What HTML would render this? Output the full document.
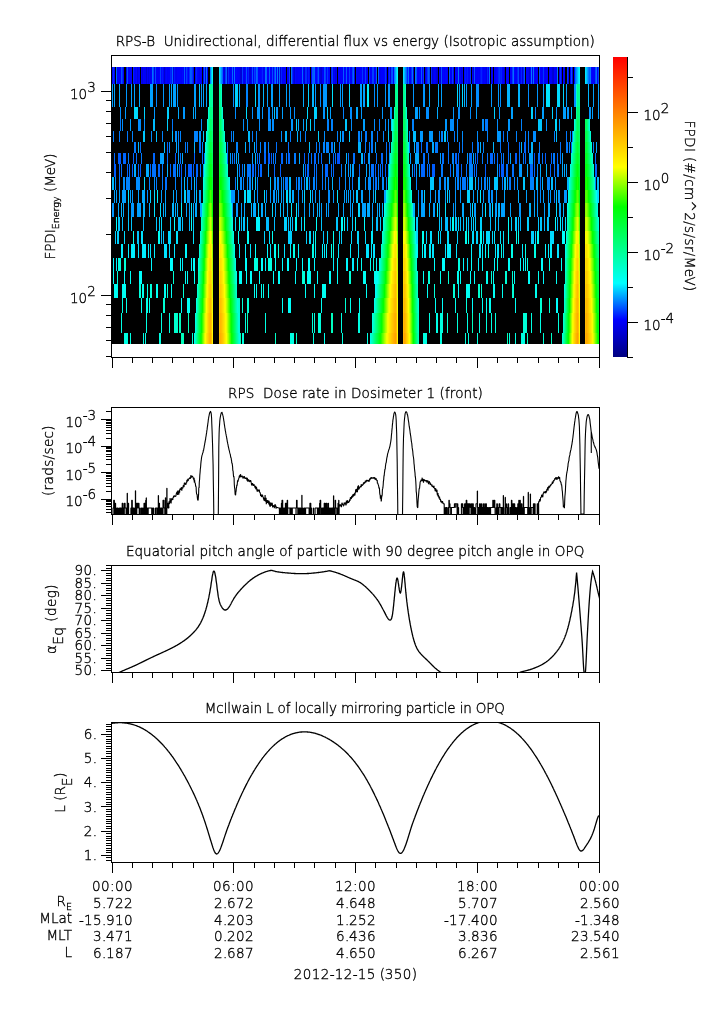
<!DOCTYPE html>
<html><head><meta charset="utf-8"><title>RPS-B plot</title><style>
html,body{margin:0;padding:0;background:#fff;width:725px;height:1019px;overflow:hidden}
svg{display:block}
text{font-family:"DejaVu Sans","Liberation Sans",sans-serif;font-size:13.5px;fill:#000;font-weight:200;stroke:#000;stroke-width:0.35px}
</style></head><body><svg width="725" height="1019" viewBox="0 0 725 1019"><rect width="725" height="1019" fill="#fff"/><text x="355.3" y="46" text-anchor="middle" textLength="479.2" lengthAdjust="spacing">RPS-B&#160;&#160;Unidirectional, differential flux vs energy (Isotropic assumption)</text><g shape-rendering="crispEdges"><rect x="112" y="67" width="487" height="277" fill="#000"/><path fill="#0000fd" d="M112 67h1v17h-1zM117 67h3v17h-3zM129 67h1v17h-1zM134 67h1v17h-1zM139 67h1v17h-1zM141 67h1v17h-1zM143 67h1v17h-1zM147 67h1v17h-1zM151 67h1v17h-1zM156 67h1v17h-1zM159 67h1v17h-1zM163 67h1v17h-1zM168 67h2v17h-2zM177 67h4v17h-4zM183 67h1v17h-1zM188 67h1v17h-1zM198 67h1v17h-1zM200 67h1v17h-1zM203 67h1v17h-1zM223 67h1v17h-1zM229 67h1v17h-1zM231 67h1v17h-1zM235 67h1v17h-1zM237 67h2v17h-2zM258 67h3v17h-3zM267 67h2v17h-2zM270 67h1v17h-1zM276 67h1v17h-1zM283 67h3v17h-3zM287 67h1v17h-1zM298 67h4v17h-4zM303 67h1v17h-1zM316 67h1v17h-1zM319 67h1v17h-1zM322 67h1v17h-1zM326 67h1v17h-1zM329 67h1v17h-1zM334 67h1v17h-1zM338 67h1v17h-1zM341 67h1v17h-1zM344 67h1v17h-1zM348 67h1v17h-1zM350 67h2v17h-2zM360 67h2v17h-2zM364 67h1v17h-1zM366 67h1v17h-1zM371 67h1v17h-1zM374 67h1v17h-1zM381 67h3v17h-3zM386 67h1v17h-1zM388 67h1v17h-1zM393 67h1v17h-1zM409 67h1v17h-1zM418 67h1v17h-1zM420 67h1v17h-1zM422 67h1v17h-1zM434 67h1v17h-1zM442 67h1v17h-1zM444 67h1v17h-1zM447 67h1v17h-1zM453 67h1v17h-1zM455 67h1v17h-1zM457 67h1v17h-1zM468 67h1v17h-1zM472 67h1v17h-1zM476 67h1v17h-1zM478 67h1v17h-1zM484 67h1v17h-1zM492 67h1v17h-1zM496 67h1v17h-1zM502 67h2v17h-2zM506 67h1v17h-1zM508 67h1v17h-1zM510 67h2v17h-2zM515 67h2v17h-2zM520 67h1v17h-1zM526 67h2v17h-2zM530 67h1v17h-1zM534 67h1v17h-1zM536 67h2v17h-2zM540 67h1v17h-1zM542 67h1v17h-1zM544 67h1v17h-1zM546 67h2v17h-2zM550 67h1v17h-1zM554 67h1v17h-1zM561 67h1v17h-1zM570 67h1v17h-1zM574 67h1v17h-1zM592 67h2v17h-2zM597 67h1v17h-1z"/><path fill="#002cff" d="M113 67h1v17h-1zM122 67h1v17h-1zM189 67h1v17h-1zM228 67h1v17h-1zM292 67h1v17h-1zM305 67h2v17h-2zM389 67h1v17h-1zM411 67h1v17h-1zM431 67h1v17h-1z"/><path fill="#0000f8" d="M114 67h1v17h-1zM120 67h1v17h-1zM123 67h1v17h-1zM128 67h1v17h-1zM130 67h2v17h-2zM135 67h1v17h-1zM138 67h1v17h-1zM144 67h2v17h-2zM149 67h1v17h-1zM157 67h2v17h-2zM165 67h1v17h-1zM167 67h1v17h-1zM175 67h1v17h-1zM181 67h1v17h-1zM185 67h1v17h-1zM193 67h1v17h-1zM195 67h1v17h-1zM201 67h1v17h-1zM207 67h1v17h-1zM230 67h1v17h-1zM233 67h1v17h-1zM239 67h1v17h-1zM243 67h1v17h-1zM251 67h1v17h-1zM253 67h1v17h-1zM263 67h1v17h-1zM271 67h1v17h-1zM273 67h1v17h-1zM282 67h1v17h-1zM288 67h1v17h-1zM293 67h1v17h-1zM296 67h2v17h-2zM311 67h1v17h-1zM323 67h1v17h-1zM336 67h1v17h-1zM339 67h2v17h-2zM342 67h1v17h-1zM347 67h1v17h-1zM357 67h3v17h-3zM367 67h1v17h-1zM370 67h1v17h-1zM379 67h1v17h-1zM410 67h1v17h-1zM435 67h1v17h-1zM450 67h2v17h-2zM456 67h1v17h-1zM459 67h2v17h-2zM462 67h1v17h-1zM469 67h1v17h-1zM475 67h1v17h-1zM477 67h1v17h-1zM479 67h1v17h-1zM483 67h1v17h-1zM485 67h1v17h-1zM488 67h1v17h-1zM491 67h1v17h-1zM494 67h1v17h-1zM532 67h1v17h-1zM541 67h1v17h-1zM549 67h1v17h-1zM551 67h1v17h-1zM555 67h1v17h-1zM563 67h2v17h-2zM568 67h1v17h-1zM594 67h1v17h-1z"/><path fill="#0066ff" d="M116 67h1v17h-1zM172 67h1v17h-1zM222 67h1v17h-1zM226 67h1v17h-1zM232 67h1v17h-1zM256 67h1v17h-1zM266 67h1v17h-1zM302 67h1v17h-1zM314 67h1v17h-1zM353 67h1v17h-1zM378 67h1v17h-1zM406 67h1v17h-1zM167 142h1v11h-1zM421 142h1v11h-1zM508 142h1v11h-1zM519 142h1v11h-1zM524 142h2v11h-2zM571 142h1v11h-1zM114 153h1v11h-1zM123 153h3v11h-3zM133 153h1v11h-1zM153 153h2v11h-2zM257 153h1v11h-1zM264 153h2v11h-2zM281 153h2v11h-2zM288 153h2v11h-2zM314 153h2v11h-2zM321 153h1v11h-1zM333 153h1v11h-1zM364 153h1v11h-1zM381 153h2v11h-2zM455 153h2v11h-2zM458 153h1v11h-1zM490 153h3v11h-3zM497 153h1v11h-1zM525 153h1v11h-1zM551 153h1v11h-1zM557 153h1v11h-1zM595 153h1v11h-1zM119 164h1v13h-1zM127 164h1v13h-1zM138 164h1v13h-1zM150 164h1v13h-1zM158 164h2v13h-2zM170 164h1v13h-1zM179 164h1v13h-1zM196 164h2v13h-2zM252 164h2v13h-2zM258 164h1v13h-1zM260 164h2v13h-2zM274 164h1v13h-1zM305 164h1v13h-1zM307 164h2v13h-2zM325 164h3v13h-3zM333 164h1v13h-1zM359 164h1v13h-1zM382 164h1v13h-1zM421 164h4v13h-4zM450 164h1v13h-1zM461 164h1v13h-1zM474 164h1v13h-1zM530 164h3v13h-3zM534 164h1v13h-1zM550 164h1v13h-1zM554 164h1v13h-1zM595 164h2v13h-2z"/><path fill="#0053ff" d="M121 67h1v17h-1zM127 67h1v17h-1zM191 67h1v17h-1zM246 67h1v17h-1zM252 67h1v17h-1zM257 67h1v17h-1zM318 67h1v17h-1zM324 67h1v17h-1zM392 67h1v17h-1zM416 67h1v17h-1zM441 67h1v17h-1zM474 67h1v17h-1zM524 67h1v17h-1zM571 67h1v17h-1zM337 153h3v11h-3zM534 153h1v11h-1zM385 164h1v13h-1z"/><path fill="#0000f3" d="M126 67h1v17h-1zM150 67h1v17h-1zM176 67h1v17h-1zM199 67h1v17h-1zM264 67h1v17h-1zM307 67h1v17h-1zM333 67h1v17h-1zM354 67h1v17h-1zM363 67h1v17h-1zM380 67h1v17h-1zM433 67h1v17h-1zM495 67h1v17h-1zM528 67h1v17h-1zM535 67h1v17h-1zM545 67h1v17h-1zM556 67h1v17h-1zM559 67h1v17h-1z"/><path fill="#0022ff" d="M133 67h1v17h-1zM170 67h1v17h-1zM196 67h1v17h-1zM248 67h1v17h-1zM255 67h1v17h-1zM262 67h1v17h-1zM281 67h1v17h-1zM317 67h1v17h-1zM407 67h1v17h-1zM481 67h1v17h-1zM487 67h1v17h-1zM498 67h1v17h-1zM501 67h1v17h-1zM517 67h1v17h-1zM521 67h1v17h-1z"/><path fill="#0005ff" d="M136 67h1v17h-1zM161 67h1v17h-1zM166 67h1v17h-1zM182 67h1v17h-1zM197 67h1v17h-1zM236 67h1v17h-1zM245 67h1v17h-1zM247 67h1v17h-1zM261 67h1v17h-1zM295 67h1v17h-1zM309 67h1v17h-1zM315 67h1v17h-1zM328 67h1v17h-1zM345 67h1v17h-1zM356 67h1v17h-1zM375 67h1v17h-1zM384 67h1v17h-1zM417 67h1v17h-1zM419 67h1v17h-1zM426 67h1v17h-1zM439 67h1v17h-1zM443 67h1v17h-1zM445 67h2v17h-2zM464 67h1v17h-1zM466 67h1v17h-1zM482 67h1v17h-1zM497 67h1v17h-1zM507 67h1v17h-1zM514 67h1v17h-1zM591 67h1v17h-1z"/><path fill="#0000e0" d="M137 67h1v17h-1zM142 67h1v17h-1zM148 67h1v17h-1zM335 67h1v17h-1zM413 67h1v17h-1zM425 67h1v17h-1zM436 67h1v17h-1zM572 67h1v17h-1z"/><path fill="#0000d1" d="M146 67h1v17h-1zM280 67h1v17h-1zM321 67h1v17h-1zM529 67h1v17h-1zM553 67h1v17h-1z"/><path fill="#0070ff" d="M152 67h1v17h-1zM206 67h1v17h-1zM234 67h1v17h-1zM265 67h1v17h-1zM275 67h1v17h-1zM279 67h1v17h-1zM291 67h1v17h-1zM408 67h1v17h-1zM412 67h1v17h-1zM415 67h1v17h-1zM458 67h1v17h-1zM489 67h1v17h-1zM513 67h1v17h-1zM533 67h1v17h-1zM557 67h1v17h-1zM575 67h1v17h-1zM596 67h1v17h-1zM377 131h1v11h-1zM503 131h1v11h-1zM140 142h1v11h-1zM199 142h2v11h-2zM256 142h1v11h-1zM276 142h1v11h-1zM288 142h1v11h-1zM339 142h1v11h-1zM386 142h1v11h-1zM389 142h1v11h-1zM426 142h2v11h-2zM459 142h1v11h-1zM472 142h1v11h-1zM500 142h1v11h-1zM560 142h1v11h-1zM136 153h1v11h-1zM167 153h1v11h-1zM180 153h1v11h-1zM202 153h1v11h-1zM227 153h1v11h-1zM234 153h1v11h-1zM308 153h1v11h-1zM311 153h1v11h-1zM335 153h1v11h-1zM348 153h1v11h-1zM353 153h2v11h-2zM376 153h1v11h-1zM423 153h2v11h-2zM428 153h1v11h-1zM442 153h2v11h-2zM448 153h1v11h-1zM469 153h3v11h-3zM475 153h1v11h-1zM487 153h1v11h-1zM494 153h1v11h-1zM501 153h1v11h-1zM508 153h1v11h-1zM519 153h1v11h-1zM538 153h2v11h-2zM542 153h1v11h-1zM121 164h1v13h-1zM129 164h1v13h-1zM152 164h4v13h-4zM173 164h3v13h-3zM185 164h1v13h-1zM200 164h1v13h-1zM239 164h1v13h-1zM242 164h1v13h-1zM255 164h1v13h-1zM314 164h1v13h-1zM316 164h1v13h-1zM331 164h1v13h-1zM371 164h3v13h-3zM378 164h1v13h-1zM380 164h1v13h-1zM427 164h1v13h-1zM429 164h1v13h-1zM456 164h3v13h-3zM466 164h1v13h-1zM476 164h1v13h-1zM506 164h2v13h-2zM512 164h2v13h-2zM165 177h2v13h-2zM339 177h1v13h-1zM375 177h2v13h-2zM540 177h1v13h-1z"/><path fill="#0049ff" d="M153 67h1v17h-1zM155 67h1v17h-1zM272 67h1v17h-1zM391 67h1v17h-1zM518 67h1v17h-1zM539 67h1v17h-1zM595 67h1v17h-1zM598 67h1v17h-1z"/><path fill="#0000e5" d="M154 67h1v17h-1zM486 67h1v17h-1zM519 67h1v17h-1z"/><path fill="#003fff" d="M160 67h1v17h-1zM186 67h1v17h-1zM242 67h1v17h-1zM254 67h1v17h-1zM274 67h1v17h-1zM289 67h1v17h-1zM325 67h1v17h-1zM332 67h1v17h-1zM349 67h1v17h-1zM352 67h1v17h-1zM365 67h1v17h-1zM372 67h2v17h-2zM429 67h1v17h-1zM452 67h1v17h-1zM512 67h1v17h-1zM567 67h1v17h-1z"/><path fill="#0018ff" d="M162 67h1v17h-1zM171 67h1v17h-1zM174 67h1v17h-1zM187 67h1v17h-1zM308 67h1v17h-1zM331 67h1v17h-1zM465 67h1v17h-1zM467 67h1v17h-1zM500 67h1v17h-1zM523 67h1v17h-1z"/><path fill="#0000cd" d="M164 67h1v17h-1z"/><path fill="#0000d6" d="M173 67h1v17h-1zM205 67h1v17h-1zM227 67h1v17h-1zM241 67h1v17h-1zM278 67h1v17h-1zM294 67h1v17h-1zM432 67h1v17h-1zM473 67h1v17h-1zM504 67h1v17h-1zM522 67h1v17h-1zM552 67h1v17h-1z"/><path fill="#005cff" d="M184 67h1v17h-1zM190 67h1v17h-1zM204 67h1v17h-1zM269 67h1v17h-1zM312 67h2v17h-2zM343 67h1v17h-1zM346 67h1v17h-1zM376 67h1v17h-1zM421 67h1v17h-1zM428 67h1v17h-1zM449 67h1v17h-1zM589 67h1v17h-1zM118 153h3v11h-3zM175 153h1v11h-1zM194 153h1v11h-1zM268 153h2v11h-2zM271 153h1v11h-1zM304 153h1v11h-1zM477 153h1v11h-1zM515 153h2v11h-2zM545 153h1v11h-1zM114 164h2v13h-2zM132 164h1v13h-1zM140 164h1v13h-1zM181 164h1v13h-1zM188 164h4v13h-4zM193 164h1v13h-1zM280 164h1v13h-1zM375 164h1v13h-1zM414 164h1v13h-1zM432 164h3v13h-3zM485 164h1v13h-1zM499 164h1v13h-1zM501 164h3v13h-3z"/><path fill="#0035ff" d="M192 67h1v17h-1zM225 67h1v17h-1zM327 67h1v17h-1zM362 67h1v17h-1zM369 67h1v17h-1zM385 67h1v17h-1zM423 67h1v17h-1zM427 67h1v17h-1zM470 67h1v17h-1zM499 67h1v17h-1zM543 67h1v17h-1zM560 67h1v17h-1z"/><path fill="#0083ff" d="M210 67h1v17h-1zM156 84h1v23h-1zM246 84h2v23h-2zM268 107h2v12h-2zM343 107h1v12h-1zM535 107h1v12h-1zM327 119h2v12h-2zM331 119h2v12h-2zM412 119h2v12h-2zM457 119h1v12h-1zM521 119h1v12h-1zM132 131h1v11h-1zM162 131h1v11h-1zM178 131h1v11h-1zM180 131h1v11h-1zM194 131h4v11h-4zM256 131h1v11h-1zM337 131h1v11h-1zM358 131h2v11h-2zM371 131h2v11h-2zM383 131h1v11h-1zM439 131h1v11h-1zM441 131h2v11h-2zM487 131h1v11h-1zM507 131h1v11h-1zM516 131h1v11h-1zM528 131h1v11h-1zM554 131h1v11h-1zM570 131h1v11h-1zM572 131h1v11h-1zM169 142h1v11h-1zM202 142h1v11h-1zM236 142h2v11h-2zM249 142h1v11h-1zM260 142h1v11h-1zM268 142h1v11h-1zM323 142h2v11h-2zM326 142h3v11h-3zM409 142h1v11h-1zM416 142h3v11h-3zM483 142h1v11h-1zM539 142h1v11h-1zM569 142h1v11h-1zM593 142h1v11h-1zM452 153h2v11h-2zM322 164h1v13h-1zM469 164h4v13h-4zM537 164h1v13h-1zM126 177h4v13h-4zM149 177h1v13h-1zM175 177h1v13h-1zM181 177h1v13h-1zM191 177h1v13h-1zM243 177h1v13h-1zM249 177h2v13h-2zM257 177h1v13h-1zM283 177h1v13h-1zM298 177h2v13h-2zM304 177h1v13h-1zM313 177h2v13h-2zM325 177h1v13h-1zM328 177h1v13h-1zM373 177h1v13h-1zM416 177h1v13h-1zM457 177h2v13h-2zM460 177h1v13h-1zM478 177h1v13h-1zM484 177h2v13h-2zM514 177h1v13h-1zM530 177h4v13h-4zM547 177h3v13h-3zM595 177h1v13h-1zM298 190h1v13h-1zM418 190h1v13h-1z"/><path fill="#00c7ff" d="M211 67h1v17h-1zM586 67h1v17h-1zM199 84h1v23h-1zM274 107h1v12h-1zM306 119h1v12h-1zM345 119h2v12h-2zM538 119h4v12h-4zM143 131h2v11h-2zM203 131h1v11h-1zM388 131h1v11h-1zM444 131h2v11h-2zM255 177h1v13h-1zM270 177h1v13h-1zM430 177h4v13h-4zM469 177h4v13h-4zM494 177h4v13h-4zM523 177h2v13h-2zM196 190h1v13h-1zM289 190h2v13h-2zM356 190h2v13h-2zM556 190h1v13h-1zM118 217h2v14h-2zM128 217h1v14h-1zM131 217h1v14h-1zM156 217h1v14h-1zM182 217h1v14h-1zM193 217h1v14h-1zM243 217h2v14h-2zM321 217h1v14h-1zM336 217h2v14h-2zM380 217h1v14h-1zM416 217h2v14h-2zM439 217h1v14h-1zM441 217h1v14h-1zM455 217h2v14h-2zM463 217h1v14h-1zM471 217h1v14h-1zM495 217h1v14h-1zM518 217h1v14h-1zM538 217h1v14h-1zM540 217h2v14h-2zM547 217h2v14h-2zM562 217h1v14h-1zM137 231h2v13h-2zM163 231h1v13h-1zM323 231h1v13h-1z"/><path fill="#00fff9" d="M212 67h1v17h-1zM397 67h1v17h-1zM579 67h1v17h-1zM116 217h1v14h-1zM191 217h1v14h-1zM295 217h2v14h-2zM316 217h1v14h-1zM344 217h1v14h-1zM508 217h1v14h-1zM238 231h1v13h-1zM508 231h1v13h-1zM357 258h1v13h-1zM434 258h1v13h-1zM508 258h2v13h-2zM113 271h1v13h-1zM187 271h1v13h-1zM194 271h1v13h-1zM239 271h3v13h-3zM246 271h1v13h-1zM250 271h2v13h-2zM259 271h1v13h-1zM273 271h1v13h-1zM278 271h2v13h-2zM337 271h1v13h-1zM474 271h1v13h-1zM493 271h1v13h-1zM528 271h2v13h-2zM171 284h1v14h-1zM314 284h1v14h-1zM375 284h1v14h-1zM141 298h1v15h-1zM288 298h3v15h-3zM442 298h1v15h-1zM472 298h1v15h-1z"/><path fill="#00e4ff" d="M219 67h1v17h-1zM403 67h1v17h-1zM578 67h1v17h-1zM585 67h1v17h-1zM332 84h1v23h-1zM546 84h4v23h-4zM128 190h1v13h-1zM244 190h2v13h-2zM310 190h1v13h-1zM337 190h1v13h-1zM154 203h1v14h-1zM191 203h1v14h-1zM291 203h1v14h-1zM296 203h1v14h-1zM445 203h1v14h-1zM472 203h1v14h-1zM485 203h1v14h-1zM492 203h1v14h-1zM141 231h2v13h-2zM176 231h2v13h-2zM193 231h1v13h-1zM313 231h1v13h-1zM494 231h1v13h-1zM500 231h1v13h-1zM503 231h1v13h-1zM138 244h1v14h-1zM150 244h1v14h-1zM164 244h3v14h-3zM174 244h1v14h-1zM239 244h1v14h-1zM250 244h1v14h-1zM270 244h1v14h-1zM284 244h1v14h-1zM338 244h1v14h-1zM358 244h1v14h-1zM366 244h3v14h-3zM373 244h2v14h-2zM432 244h2v14h-2zM445 244h1v14h-1zM456 244h1v14h-1zM479 244h2v14h-2zM497 244h2v14h-2zM503 244h1v14h-1zM557 244h2v14h-2zM467 258h1v13h-1z"/><path fill="#00bdff" d="M220 67h1v17h-1zM404 67h1v17h-1zM577 67h1v17h-1zM571 107h1v12h-1zM153 119h2v12h-2zM156 131h1v11h-1zM172 131h1v11h-1zM248 131h2v11h-2zM340 131h1v11h-1zM413 131h3v11h-3zM556 131h1v11h-1zM164 142h1v11h-1zM309 142h1v11h-1zM255 153h1v11h-1zM112 177h2v13h-2zM184 177h1v13h-1zM194 177h1v13h-1zM289 177h2v13h-2zM306 177h2v13h-2zM358 177h2v13h-2zM475 177h1v13h-1zM536 177h2v13h-2zM551 177h2v13h-2zM597 177h2v13h-2zM251 203h1v14h-1zM280 203h1v14h-1zM122 217h1v14h-1zM143 217h1v14h-1zM178 217h3v14h-3zM189 217h1v14h-1zM241 217h1v14h-1zM266 217h3v14h-3zM274 217h1v14h-1zM288 217h1v14h-1zM292 217h1v14h-1zM347 217h1v14h-1zM376 217h2v14h-2zM445 217h3v14h-3zM450 217h1v14h-1zM460 217h1v14h-1zM468 217h1v14h-1zM490 217h1v14h-1zM498 217h1v14h-1zM161 231h1v13h-1z"/><path fill="#008dff" d="M221 67h1v17h-1zM405 67h1v17h-1zM233 84h1v23h-1zM320 84h1v23h-1zM374 84h1v23h-1zM476 84h3v23h-3zM500 84h1v23h-1zM528 84h1v23h-1zM574 84h2v23h-2zM120 107h1v12h-1zM235 107h1v12h-1zM252 107h1v12h-1zM294 107h1v12h-1zM350 107h2v12h-2zM390 107h2v12h-2zM426 107h3v12h-3zM458 107h2v12h-2zM470 107h1v12h-1zM556 107h1v12h-1zM122 119h1v12h-1zM138 119h3v12h-3zM144 119h1v12h-1zM201 119h1v12h-1zM243 119h1v12h-1zM259 119h1v12h-1zM268 119h3v12h-3zM272 119h2v12h-2zM351 119h1v12h-1zM374 119h1v12h-1zM385 119h1v12h-1zM450 119h4v12h-4zM482 119h2v12h-2zM497 119h1v12h-1zM546 119h1v12h-1zM151 131h1v11h-1zM175 131h2v11h-2zM199 131h2v11h-2zM233 131h1v11h-1zM281 131h1v11h-1zM300 131h1v11h-1zM324 131h1v11h-1zM342 131h2v11h-2zM361 131h1v11h-1zM409 131h1v11h-1zM457 131h1v11h-1zM462 131h1v11h-1zM477 131h1v11h-1zM533 131h3v11h-3zM178 142h1v11h-1zM115 177h1v13h-1zM123 177h2v13h-2zM136 177h4v13h-4zM154 177h1v13h-1zM187 177h1v13h-1zM240 177h2v13h-2zM247 177h1v13h-1zM277 177h2v13h-2zM281 177h1v13h-1zM345 177h1v13h-1zM349 177h1v13h-1zM368 177h3v13h-3zM382 177h2v13h-2zM439 177h2v13h-2zM444 177h2v13h-2zM455 177h1v13h-1zM481 177h1v13h-1zM517 177h1v13h-1zM147 190h1v13h-1zM257 190h1v13h-1zM266 190h1v13h-1zM328 190h2v13h-2zM438 190h2v13h-2zM488 190h2v13h-2zM491 190h2v13h-2zM537 190h1v13h-1zM540 190h1v13h-1z"/><path fill="#0000db" d="M224 67h1v17h-1zM240 67h1v17h-1zM249 67h2v17h-2zM304 67h1v17h-1zM320 67h1v17h-1zM390 67h1v17h-1zM437 67h1v17h-1zM440 67h1v17h-1zM461 67h1v17h-1z"/><path fill="#0000ee" d="M244 67h1v17h-1z"/><path fill="#0079ff" d="M277 67h1v17h-1zM394 67h1v17h-1zM531 67h1v17h-1zM588 67h1v17h-1zM590 67h1v17h-1zM120 119h1v12h-1zM172 119h1v12h-1zM379 119h1v12h-1zM485 119h3v12h-3zM113 131h1v11h-1zM119 131h1v11h-1zM127 131h1v11h-1zM231 131h1v11h-1zM252 131h1v11h-1zM290 131h1v11h-1zM305 131h1v11h-1zM365 131h2v11h-2zM447 131h1v11h-1zM454 131h1v11h-1zM525 131h1v11h-1zM566 131h1v11h-1zM134 142h2v11h-2zM185 142h1v11h-1zM187 142h1v11h-1zM227 142h1v11h-1zM264 142h2v11h-2zM316 142h1v11h-1zM319 142h1v11h-1zM331 142h2v11h-2zM365 142h1v11h-1zM369 142h1v11h-1zM371 142h2v11h-2zM435 142h3v11h-3zM448 142h1v11h-1zM462 142h1v11h-1zM477 142h2v11h-2zM528 142h1v11h-1zM566 142h2v11h-2zM128 153h1v11h-1zM141 153h1v11h-1zM204 153h1v11h-1zM232 153h1v11h-1zM259 153h1v11h-1zM273 153h1v11h-1zM275 153h1v11h-1zM286 153h1v11h-1zM294 153h2v11h-2zM318 153h1v11h-1zM386 153h1v11h-1zM482 153h1v11h-1zM503 153h1v11h-1zM523 153h1v11h-1zM553 153h2v11h-2zM560 153h1v11h-1zM162 164h1v13h-1zM247 164h4v13h-4zM341 164h1v13h-1zM441 164h2v13h-2zM557 164h2v13h-2zM119 177h1v13h-1zM156 177h1v13h-1zM162 177h1v13h-1zM196 177h1v13h-1zM235 177h1v13h-1zM285 177h3v13h-3zM296 177h1v13h-1zM301 177h1v13h-1zM309 177h1v13h-1zM316 177h1v13h-1zM322 177h1v13h-1zM352 177h1v13h-1zM386 177h1v13h-1zM462 177h4v13h-4zM467 177h1v13h-1zM502 177h1v13h-1zM509 177h2v13h-2zM554 190h1v13h-1z"/><path fill="#00aaff" d="M395 67h1v17h-1zM119 84h1v23h-1zM139 84h1v23h-1zM171 84h1v23h-1zM239 84h1v23h-1zM303 84h1v23h-1zM429 84h1v23h-1zM438 84h1v23h-1zM178 107h1v12h-1zM193 107h1v12h-1zM356 107h2v12h-2zM437 107h1v12h-1zM298 119h1v12h-1zM176 142h1v11h-1zM432 142h2v11h-2zM596 142h1v11h-1zM182 153h1v11h-1zM236 153h1v11h-1zM299 153h1v11h-1zM415 153h4v11h-4zM473 153h1v11h-1zM134 164h2v13h-2zM146 164h3v13h-3zM177 164h1v13h-1zM203 164h1v13h-1zM244 164h1v13h-1zM268 164h1v13h-1zM303 164h1v13h-1zM350 164h1v13h-1zM366 164h1v13h-1zM419 164h1v13h-1zM453 164h1v13h-1zM527 164h1v13h-1zM540 164h1v13h-1zM562 164h1v13h-1zM564 164h1v13h-1zM142 190h3v13h-3zM173 190h1v13h-1zM278 190h1v13h-1zM292 190h2v13h-2zM353 190h1v13h-1zM373 190h1v13h-1zM449 190h1v13h-1zM477 190h1v13h-1zM518 190h1v13h-1zM118 203h1v14h-1zM123 203h1v14h-1zM149 203h1v14h-1zM165 203h1v14h-1zM175 203h1v14h-1zM193 203h1v14h-1zM195 203h2v14h-2zM200 203h2v14h-2zM244 203h1v14h-1zM253 203h3v14h-3zM261 203h2v14h-2zM265 203h1v14h-1zM319 203h1v14h-1zM338 203h1v14h-1zM352 203h1v14h-1zM367 203h3v14h-3zM377 203h1v14h-1zM379 203h1v14h-1zM382 203h1v14h-1zM418 203h1v14h-1zM439 203h1v14h-1zM462 203h2v14h-2zM482 203h1v14h-1zM534 203h1v14h-1z"/><path fill="#00dbff" d="M396 67h1v17h-1zM255 84h1v23h-1zM349 84h1v23h-1zM457 84h1v23h-1zM462 84h1v23h-1zM557 84h3v23h-3zM134 107h4v12h-4zM246 107h1v12h-1zM307 107h1v12h-1zM310 119h1v12h-1zM555 119h2v12h-2zM144 177h1v13h-1zM154 190h1v13h-1zM247 190h4v13h-4zM264 190h1v13h-1zM286 190h2v13h-2zM304 190h1v13h-1zM447 190h1v13h-1zM597 190h2v13h-2zM160 203h1v14h-1zM258 203h1v14h-1zM272 203h1v14h-1zM358 203h2v14h-2zM556 203h1v14h-1zM161 217h1v14h-1zM247 217h1v14h-1zM466 217h1v14h-1zM565 217h1v14h-1zM124 231h1v13h-1zM168 231h3v13h-3zM269 231h1v13h-1zM309 231h2v13h-2zM327 231h1v13h-1zM351 231h1v13h-1zM357 231h2v13h-2zM365 231h1v13h-1zM416 231h2v13h-2zM430 231h2v13h-2zM447 231h2v13h-2zM472 231h2v13h-2zM486 231h4v13h-4zM492 231h1v13h-1zM535 231h1v13h-1zM550 231h4v13h-4zM169 244h1v14h-1z"/><path fill="#000fff" d="M480 67h1v17h-1z"/><path fill="#0097ff" d="M576 67h1v17h-1zM126 84h1v23h-1zM163 84h1v23h-1zM177 84h1v23h-1zM201 84h1v23h-1zM258 84h2v23h-2zM289 84h1v23h-1zM315 84h1v23h-1zM323 84h4v23h-4zM340 84h1v23h-1zM377 84h1v23h-1zM385 84h1v23h-1zM388 84h2v23h-2zM413 84h1v23h-1zM423 84h2v23h-2zM466 84h1v23h-1zM491 84h1v23h-1zM498 84h1v23h-1zM537 84h1v23h-1zM125 107h1v12h-1zM154 107h1v12h-1zM183 107h2v12h-2zM257 107h3v12h-3zM262 107h1v12h-1zM272 107h1v12h-1zM276 107h2v12h-2zM290 107h1v12h-1zM323 107h2v12h-2zM361 107h1v12h-1zM382 107h1v12h-1zM419 107h1v12h-1zM453 107h1v12h-1zM499 107h1v12h-1zM567 107h2v12h-2zM589 107h2v12h-2zM247 119h1v12h-1zM291 119h2v12h-2zM388 119h1v12h-1zM445 119h2v12h-2zM508 119h2v12h-2zM420 131h3v11h-3zM429 131h4v11h-4zM497 131h4v11h-4zM230 153h1v11h-1zM368 153h2v11h-2zM410 153h1v11h-1zM467 153h1v11h-1zM348 164h1v13h-1zM369 164h1v13h-1zM519 164h3v13h-3zM274 177h2v13h-2zM365 177h1v13h-1zM378 177h1v13h-1zM487 177h1v13h-1zM489 177h1v13h-1zM555 177h1v13h-1zM132 190h1v13h-1zM176 190h1v13h-1zM181 190h1v13h-1zM187 190h3v13h-3zM194 190h1v13h-1zM231 190h4v13h-4zM238 190h1v13h-1zM270 190h1v13h-1zM273 190h2v13h-2zM276 190h1v13h-1zM315 190h1v13h-1zM319 190h1v13h-1zM333 190h1v13h-1zM369 190h1v13h-1zM421 190h2v13h-2zM455 190h1v13h-1zM460 190h1v13h-1zM483 190h1v13h-1zM496 190h1v13h-1zM534 190h1v13h-1zM548 190h1v13h-1zM550 190h1v13h-1zM558 190h2v13h-2zM564 190h3v13h-3zM112 203h2v14h-2zM131 203h3v14h-3zM236 203h2v14h-2zM328 203h1v14h-1zM350 203h1v14h-1zM372 203h1v14h-1zM453 203h1v14h-1zM519 203h2v14h-2z"/><path fill="#00a0ff" d="M587 67h1v17h-1zM112 84h1v23h-1zM114 84h1v23h-1zM131 84h1v23h-1zM134 84h1v23h-1zM150 84h3v23h-3zM169 84h1v23h-1zM173 84h3v23h-3zM194 84h2v23h-2zM203 84h1v23h-1zM206 84h1v23h-1zM267 84h1v23h-1zM271 84h2v23h-2zM279 84h1v23h-1zM286 84h1v23h-1zM342 84h1v23h-1zM360 84h2v23h-2zM363 84h2v23h-2zM441 84h1v23h-1zM459 84h1v23h-1zM471 84h1v23h-1zM543 84h1v23h-1zM566 84h1v23h-1zM593 84h1v23h-1zM598 84h1v23h-1zM195 107h1v12h-1zM282 107h1v12h-1zM330 107h1v12h-1zM415 107h3v12h-3zM476 107h1v12h-1zM511 107h2v12h-2zM542 107h2v12h-2zM563 107h3v12h-3zM592 107h1v12h-1zM598 107h1v12h-1zM130 119h1v12h-1zM303 119h1v12h-1zM314 119h1v12h-1zM363 119h2v12h-2zM559 119h1v12h-1zM375 142h1v11h-1zM160 153h4v11h-4zM178 153h1v11h-1zM238 153h1v11h-1zM252 153h1v11h-1zM329 153h1v11h-1zM389 153h1v11h-1zM440 153h1v11h-1zM510 153h1v11h-1zM529 153h4v11h-4zM562 153h1v11h-1zM345 164h1v13h-1zM352 164h2v13h-2zM388 164h1v13h-1zM412 164h1v13h-1zM416 164h1v13h-1zM497 164h1v13h-1zM566 164h1v13h-1zM447 177h2v13h-2zM114 190h1v13h-1zM116 190h1v13h-1zM119 190h1v13h-1zM122 190h4v13h-4zM130 190h1v13h-1zM138 190h1v13h-1zM161 190h1v13h-1zM165 190h1v13h-1zM199 190h2v13h-2zM281 190h1v13h-1zM283 190h1v13h-1zM302 190h1v13h-1zM312 190h1v13h-1zM344 190h1v13h-1zM346 190h1v13h-1zM348 190h1v13h-1zM350 190h1v13h-1zM361 190h2v13h-2zM384 190h2v13h-2zM430 190h1v13h-1zM435 190h1v13h-1zM445 190h1v13h-1zM473 190h1v13h-1zM504 190h1v13h-1zM526 190h1v13h-1zM543 190h1v13h-1zM137 203h4v14h-4zM186 203h1v14h-1zM189 203h1v14h-1zM232 203h1v14h-1zM241 203h1v14h-1zM275 203h1v14h-1zM298 203h1v14h-1zM304 203h1v14h-1zM309 203h1v14h-1zM313 203h1v14h-1zM321 203h1v14h-1zM326 203h1v14h-1zM343 203h1v14h-1zM362 203h4v14h-4zM421 203h4v14h-4zM433 203h2v14h-2zM455 203h1v14h-1zM470 203h1v14h-1zM474 203h2v14h-2zM489 203h2v14h-2zM495 203h2v14h-2zM501 203h4v14h-4zM510 203h1v14h-1zM537 203h1v14h-1zM544 203h1v14h-1zM559 203h2v14h-2z"/><path fill="#00ffcf" d="M209 84h1v23h-1zM205 153h1v11h-1zM390 153h1v11h-1zM389 164h1v13h-1zM594 177h1v13h-1zM412 203h1v14h-1zM201 217h1v14h-1zM416 258h1v13h-1zM236 284h1v14h-1zM478 284h2v14h-2zM238 298h2v15h-2zM375 298h1v15h-1zM564 298h1v15h-1zM174 313h4v20h-4zM371 333h1v11h-1z"/><path fill="#00ff97" d="M210 84h1v23h-1zM225 164h1v13h-1zM572 164h1v13h-1zM205 177h1v13h-1zM571 177h1v13h-1zM388 190h1v13h-1zM570 190h1v13h-1zM569 203h1v14h-1zM384 231h1v13h-1zM597 231h1v13h-1zM567 244h1v14h-1zM235 298h1v15h-1zM377 298h1v15h-1zM197 313h1v20h-1zM375 313h1v20h-1z"/><path fill="#00ff9b" d="M211 84h1v23h-1zM219 84h2v23h-2zM207 142h1v11h-1zM392 142h1v11h-1zM204 190h1v13h-1zM596 217h1v14h-1zM232 244h1v14h-1zM414 244h1v14h-1zM380 271h1v13h-1zM566 271h1v13h-1zM236 313h1v20h-1z"/><path fill="#00ffa9" d="M212 84h1v23h-1zM208 119h1v12h-1zM222 119h1v12h-1zM406 119h1v12h-1zM575 119h1v12h-1zM588 119h1v12h-1zM574 131h1v11h-1zM589 131h1v11h-1zM407 142h1v11h-1zM573 142h1v11h-1zM206 153h1v11h-1zM594 190h1v13h-1zM386 203h1v14h-1zM201 231h1v13h-1zM381 258h1v13h-1zM415 258h1v13h-1zM566 258h1v13h-1zM234 271h1v13h-1zM378 284h1v14h-1zM237 333h1v11h-1z"/><path fill="#00ffc6" d="M221 84h1v23h-1zM203 190h1v13h-1zM229 190h1v13h-1zM596 203h1v14h-1zM415 244h1v14h-1zM198 271h1v13h-1zM565 271h1v13h-1zM377 284h1v14h-1zM417 284h1v14h-1zM195 333h1v11h-1zM275 333h1v11h-1zM418 333h1v11h-1z"/><path fill="#00d1ff" d="M235 84h3v23h-3zM308 84h1v23h-1zM563 84h1v23h-1zM144 107h1v12h-1zM167 107h2v12h-2zM314 107h3v12h-3zM327 107h1v12h-1zM494 107h1v12h-1zM531 107h2v12h-2zM552 107h1v12h-1zM167 119h1v12h-1zM296 119h1v12h-1zM391 119h1v12h-1zM318 131h1v11h-1zM349 131h1v11h-1zM237 177h1v13h-1zM150 190h1v13h-1zM184 190h2v13h-2zM375 190h1v13h-1zM424 190h1v13h-1zM467 190h3v13h-3zM159 217h1v14h-1zM170 217h1v14h-1zM235 217h1v14h-1zM284 217h3v14h-3zM290 217h1v14h-1zM301 217h1v14h-1zM352 217h1v14h-1zM372 217h1v14h-1zM458 217h1v14h-1zM473 217h1v14h-1zM475 217h1v14h-1zM480 217h2v14h-2zM511 217h1v14h-1zM515 217h2v14h-2zM527 217h2v14h-2zM115 231h1v13h-1zM117 231h2v13h-2zM264 231h1v13h-1zM288 231h4v13h-4zM306 231h1v13h-1zM339 231h1v13h-1zM341 231h1v13h-1zM426 231h1v13h-1zM440 231h1v13h-1zM457 231h1v13h-1zM476 231h2v13h-2zM483 231h1v13h-1zM531 231h3v13h-3z"/><path fill="#00b4ff" d="M263 84h1v23h-1zM312 84h2v23h-2zM464 84h1v23h-1zM507 84h3v23h-3zM518 84h2v23h-2zM588 84h1v23h-1zM285 131h2v11h-2zM297 131h1v11h-1zM138 142h1v11h-1zM194 142h1v11h-1zM245 142h1v11h-1zM254 142h1v11h-1zM334 142h1v11h-1zM358 142h3v11h-3zM414 142h1v11h-1zM480 142h1v11h-1zM493 142h1v11h-1zM521 142h1v11h-1zM531 142h2v11h-2zM346 153h1v11h-1zM361 153h2v11h-2zM167 164h1v13h-1zM237 164h1v13h-1zM546 164h1v13h-1zM252 177h1v13h-1zM332 177h1v13h-1zM504 177h2v13h-2zM507 177h1v13h-1zM542 177h1v13h-1zM567 177h2v13h-2zM254 190h1v13h-1zM121 203h1v14h-1zM128 203h1v14h-1zM143 203h2v14h-2zM163 203h1v14h-1zM172 203h2v14h-2zM177 203h1v14h-1zM283 203h1v14h-1zM287 203h1v14h-1zM317 203h1v14h-1zM413 203h2v14h-2zM429 203h1v14h-1zM498 203h2v14h-2zM529 203h2v14h-2zM548 203h2v14h-2zM563 203h1v14h-1zM520 217h1v14h-1zM544 217h1v14h-1zM557 217h1v14h-1z"/><path fill="#00eeff" d="M367 84h2v23h-2zM157 190h1v13h-1zM480 190h1v13h-1zM181 203h1v14h-1zM437 203h1v14h-1zM371 231h2v13h-2zM438 231h1v13h-1zM121 244h2v14h-2zM128 244h1v14h-1zM131 244h4v14h-4zM142 244h4v14h-4zM148 244h1v14h-1zM154 244h1v14h-1zM245 244h1v14h-1zM315 244h1v14h-1zM324 244h1v14h-1zM350 244h1v14h-1zM371 244h1v14h-1zM424 244h2v14h-2zM429 244h2v14h-2zM447 244h4v14h-4zM471 244h1v14h-1zM482 244h1v14h-1zM495 244h1v14h-1zM522 244h1v14h-1zM548 244h1v14h-1zM550 244h2v14h-2zM116 258h1v13h-1zM182 258h1v13h-1zM265 258h1v13h-1zM333 258h1v13h-1zM352 258h2v13h-2zM478 258h1v13h-1z"/><path fill="#00ff89" d="M395 84h1v23h-1zM577 84h1v23h-1zM397 107h1v12h-1zM579 107h1v12h-1zM221 119h1v12h-1zM574 142h1v11h-1zM589 142h1v11h-1zM408 177h1v13h-1zM227 190h1v13h-1zM409 190h1v13h-1zM593 190h1v13h-1zM568 231h1v13h-1zM382 258h1v13h-1zM233 271h1v13h-1z"/><path fill="#00ff92" d="M396 84h1v23h-1zM404 84h1v23h-1zM578 84h1v23h-1zM212 107h1v12h-1zM406 131h1v11h-1zM223 142h1v11h-1zM224 153h1v11h-1zM407 153h1v11h-1zM590 153h1v11h-1zM591 164h1v13h-1zM412 217h1v14h-1zM413 231h1v13h-1zM383 244h1v14h-1zM598 244h1v14h-1zM198 298h1v15h-1zM416 298h1v15h-1zM564 333h1v11h-1z"/><path fill="#00ffa0" d="M397 84h1v23h-1zM579 84h1v23h-1zM209 107h1v12h-1zM405 107h1v12h-1zM203 203h1v14h-1zM229 203h1v14h-1zM230 217h1v14h-1zM385 217h1v14h-1zM231 231h1v13h-1zM233 258h1v13h-1zM199 271h1v13h-1zM416 284h1v14h-1zM196 333h1v11h-1zM373 333h1v11h-1zM417 333h1v11h-1z"/><path fill="#00ff8d" d="M403 84h1v23h-1zM208 131h1v11h-1zM222 131h1v11h-1zM393 131h1v11h-1zM573 153h1v11h-1zM206 164h1v13h-1zM226 177h1v13h-1zM592 177h1v13h-1zM200 258h1v13h-1zM415 271h1v13h-1zM234 284h1v14h-1zM379 284h1v14h-1zM566 284h1v14h-1zM236 333h1v11h-1z"/><path fill="#00ffc1" d="M405 84h1v23h-1zM407 131h1v11h-1zM206 142h1v11h-1zM408 153h1v11h-1zM230 203h1v14h-1zM231 217h1v14h-1zM384 217h1v14h-1zM232 231h1v13h-1zM234 258h1v13h-1zM179 313h2v20h-2zM331 313h2v20h-2zM527 333h1v11h-1z"/><path fill="#00ffd4" d="M576 84h1v23h-1zM208 107h1v12h-1zM222 107h1v12h-1zM406 107h1v12h-1zM223 119h1v12h-1zM224 131h1v11h-1zM573 131h1v11h-1zM590 131h1v11h-1zM225 142h1v11h-1zM572 142h1v11h-1zM591 142h1v11h-1zM226 153h1v11h-1zM592 153h1v11h-1zM227 164h1v13h-1zM409 164h1v13h-1zM593 164h1v13h-1zM200 231h1v13h-1zM565 258h1v13h-1zM173 271h1v13h-1zM448 271h1v13h-1zM491 271h1v13h-1zM512 271h1v13h-1zM197 284h1v14h-1zM163 298h2v15h-2zM237 298h1v15h-1zM345 298h1v15h-1zM540 298h2v15h-2zM418 313h1v20h-1zM563 313h1v20h-1z"/><path fill="#00ff7b" d="M210 107h1v12h-1zM397 119h1v12h-1zM576 119h1v12h-1zM579 119h1v12h-1zM392 153h1v11h-1zM407 164h1v13h-1zM204 203h1v14h-1zM410 203h1v14h-1zM203 217h1v14h-1zM386 217h1v14h-1zM569 217h1v14h-1zM595 217h1v14h-1zM231 244h1v14h-1zM381 271h1v13h-1zM415 284h1v14h-1zM378 298h1v15h-1zM566 298h1v15h-1zM235 313h1v20h-1zM197 333h1v11h-1z"/><path fill="#00ff7f" d="M211 107h1v12h-1zM219 107h2v12h-2zM394 119h1v12h-1zM405 119h1v12h-1zM587 119h1v12h-1zM575 131h1v11h-1zM406 142h1v11h-1zM391 164h1v13h-1zM390 177h1v13h-1zM229 217h1v14h-1zM202 231h1v13h-1zM230 231h1v13h-1zM232 258h1v13h-1zM414 258h1v13h-1zM567 258h1v13h-1zM376 313h1v20h-1z"/><path fill="#00ffa5" d="M221 107h1v12h-1zM576 107h1v12h-1zM391 153h1v11h-1zM390 164h1v13h-1zM408 164h1v13h-1zM389 177h1v13h-1zM228 190h1v13h-1zM411 203h1v14h-1zM595 203h1v14h-1zM202 217h1v14h-1zM568 217h1v14h-1zM565 298h1v15h-1z"/><path fill="#00ffbc" d="M394 107h1v12h-1zM392 131h1v11h-1zM204 177h1v13h-1zM387 190h1v13h-1zM568 203h1v14h-1zM413 217h1v14h-1zM597 217h1v14h-1zM383 231h1v13h-1zM233 244h1v14h-1zM566 244h1v14h-1zM417 298h1v15h-1zM188 313h1v20h-1zM196 313h1v20h-1zM247 313h1v20h-1zM472 313h1v20h-1zM181 333h3v11h-3zM240 333h1v11h-1z"/><path fill="#00ff6d" d="M395 107h1v12h-1zM577 107h1v12h-1zM211 119h1v12h-1zM209 131h1v11h-1zM221 131h1v11h-1zM397 131h1v11h-1zM405 131h1v11h-1zM579 131h1v11h-1zM588 142h1v11h-1zM574 153h1v11h-1zM207 164h1v13h-1zM226 190h1v13h-1zM592 190h1v13h-1zM411 217h1v14h-1zM568 244h1v14h-1zM415 298h1v15h-1zM235 333h1v11h-1zM375 333h1v11h-1z"/><path fill="#00ff76" d="M396 107h1v12h-1zM404 107h1v12h-1zM578 107h1v12h-1zM212 131h1v11h-1zM208 142h1v11h-1zM223 153h1v11h-1zM224 164h1v13h-1zM573 164h1v13h-1zM572 177h1v13h-1zM205 190h1v13h-1zM389 190h1v13h-1zM570 203h1v14h-1zM385 231h1v13h-1zM596 231h1v13h-1zM200 271h1v13h-1zM234 298h1v15h-1zM416 333h1v11h-1z"/><path fill="#00ff71" d="M403 107h1v12h-1zM222 142h1v11h-1zM393 142h1v11h-1zM589 153h1v11h-1zM590 164h1v13h-1zM206 177h1v13h-1zM225 177h1v13h-1zM591 177h1v13h-1zM571 190h1v13h-1zM384 244h1v14h-1zM413 244h1v14h-1zM597 244h1v14h-1zM598 258h1v13h-1zM567 271h1v13h-1zM233 284h1v14h-1zM380 284h1v14h-1zM198 313h1v20h-1z"/><path fill="#00ffd8" d="M207 119h1v12h-1zM407 119h1v12h-1zM589 119h1v12h-1zM571 153h1v11h-1zM566 231h1v13h-1zM199 244h1v14h-1zM381 244h1v14h-1zM124 258h2v13h-2zM302 271h3v13h-3zM349 271h2v13h-2zM378 271h1v13h-1zM428 271h2v13h-2zM505 271h2v13h-2zM167 284h1v14h-1zM183 284h1v14h-1zM434 284h1v14h-1zM453 284h2v14h-2zM481 284h1v14h-1zM512 284h2v14h-2zM242 298h1v15h-1zM247 298h2v15h-2zM549 298h1v15h-1zM238 313h2v20h-2zM447 313h1v20h-1zM457 313h1v20h-1zM523 313h4v20h-4zM192 333h1v11h-1zM543 333h1v11h-1z"/><path fill="#00ff84" d="M209 119h1v12h-1zM212 119h1v12h-1zM588 131h1v11h-1zM207 153h1v11h-1zM228 203h1v14h-1zM387 203h1v14h-1zM594 203h1v14h-1zM201 244h1v14h-1zM199 284h1v14h-1zM416 313h1v20h-1zM565 313h1v20h-1zM374 333h1v11h-1z"/><path fill="#00ff63" d="M210 119h1v12h-1zM396 119h1v12h-1zM578 119h1v12h-1zM394 131h1v11h-1zM587 131h1v11h-1zM212 142h1v11h-1zM575 142h1v11h-1zM388 203h1v14h-1zM593 203h1v14h-1zM569 231h1v13h-1zM567 284h1v14h-1zM379 298h1v15h-1z"/><path fill="#00ff68" d="M219 119h2v12h-2zM406 153h1v11h-1zM227 203h1v14h-1zM412 231h1v13h-1zM201 258h1v13h-1zM383 258h1v13h-1zM232 271h1v13h-1zM414 271h1v13h-1zM199 298h1v15h-1zM377 313h1v20h-1zM565 333h1v11h-1z"/><path fill="#00fff0" d="M392 119h1v12h-1zM596 190h1v13h-1zM384 203h1v14h-1zM315 231h1v13h-1zM465 231h2v13h-2zM516 231h1v13h-1zM518 231h1v13h-1zM333 244h1v14h-1zM416 244h1v14h-1zM488 244h1v14h-1zM440 271h1v13h-1zM457 271h2v13h-2zM486 271h2v13h-2zM538 271h1v13h-1zM142 284h2v14h-2zM261 284h1v14h-1zM263 284h1v14h-1zM502 284h1v14h-1zM535 284h2v14h-2zM149 298h1v15h-1z"/><path fill="#00ffb3" d="M393 119h1v12h-1zM224 142h1v11h-1zM225 153h1v11h-1zM572 153h1v11h-1zM591 153h1v11h-1zM205 164h1v13h-1zM226 164h1v13h-1zM592 164h1v13h-1zM382 244h1v14h-1zM236 298h1v15h-1zM376 298h1v15h-1zM374 313h1v20h-1z"/><path fill="#00ff5a" d="M395 119h1v12h-1zM577 119h1v12h-1zM211 131h1v11h-1zM397 142h1v11h-1zM405 142h1v11h-1zM579 142h1v11h-1zM222 153h1v11h-1zM224 177h1v13h-1zM387 217h1v14h-1zM570 217h1v14h-1zM594 217h1v14h-1zM202 244h1v14h-1zM413 258h1v13h-1zM233 298h1v15h-1z"/><path fill="#00ff5e" d="M403 119h2v12h-2zM585 119h2v12h-2zM576 131h1v11h-1zM208 153h1v11h-1zM223 164h1v13h-1zM392 164h1v13h-1zM391 177h1v13h-1zM407 177h1v13h-1zM408 190h1v13h-1zM228 217h1v14h-1zM229 231h1v13h-1zM230 244h1v14h-1zM231 258h1v13h-1zM382 271h1v13h-1zM598 271h1v13h-1zM200 284h1v14h-1zM234 313h1v20h-1zM415 313h1v20h-1zM566 313h1v20h-1z"/><path fill="#00ffdd" d="M574 119h1v12h-1zM408 142h1v11h-1zM204 164h1v13h-1zM570 164h1v13h-1zM569 177h1v13h-1zM568 190h1v13h-1zM382 231h1v13h-1zM117 271h1v13h-1zM139 284h2v14h-2zM150 284h2v14h-2zM466 298h1v15h-1zM312 313h1v20h-1zM314 313h1v20h-1zM318 313h3v20h-3zM486 313h1v20h-1zM495 313h1v20h-1zM558 313h1v20h-1zM242 333h2v11h-2zM342 333h1v11h-1zM465 333h1v11h-1zM477 333h1v11h-1z"/><path fill="#00ffe2" d="M206 131h1v11h-1zM386 190h1v13h-1zM231 203h1v14h-1zM232 217h1v14h-1zM598 217h1v14h-1zM233 231h1v13h-1zM415 231h1v13h-1zM234 244h1v14h-1zM118 258h3v13h-3zM198 258h1v13h-1zM235 258h1v13h-1zM254 258h4v13h-4zM268 258h4v13h-4zM373 258h1v13h-1zM458 258h2v13h-2zM527 258h1v13h-1zM417 271h1v13h-1zM376 284h1v14h-1zM564 284h1v14h-1zM196 298h1v15h-1zM418 298h1v15h-1zM146 313h1v20h-1zM161 313h1v20h-1zM195 313h1v20h-1zM245 313h1v20h-1zM265 313h1v20h-1zM341 313h1v20h-1zM358 313h2v20h-2zM429 313h1v20h-1zM440 313h3v20h-3zM467 313h1v20h-1zM491 313h1v20h-1zM531 313h1v20h-1zM124 333h4v11h-4zM130 333h1v11h-1zM143 333h1v11h-1zM159 333h2v11h-2zM290 333h4v11h-4zM313 333h1v11h-1zM367 333h1v11h-1zM423 333h4v11h-4zM440 333h2v11h-2zM468 333h1v11h-1zM509 333h1v11h-1zM515 333h1v11h-1zM521 333h4v11h-4zM562 333h1v11h-1z"/><path fill="#00ffb8" d="M207 131h1v11h-1zM571 164h1v13h-1zM409 177h1v13h-1zM570 177h1v13h-1zM410 190h1v13h-1zM569 190h1v13h-1zM414 231h1v13h-1zM598 231h1v13h-1zM199 258h1v13h-1zM379 271h1v13h-1zM416 271h1v13h-1zM565 284h1v14h-1zM197 298h1v15h-1zM237 313h1v20h-1zM372 333h1v11h-1zM507 333h1v11h-1zM563 333h1v11h-1z"/><path fill="#00ff50" d="M210 131h1v11h-1zM396 131h1v11h-1zM578 131h1v11h-1zM575 153h1v11h-1zM406 164h1v13h-1zM206 190h1v13h-1zM225 190h1v13h-1zM572 190h1v13h-1zM205 203h1v14h-1zM571 203h1v14h-1zM385 244h1v14h-1zM596 244h1v14h-1zM201 271h1v13h-1zM232 284h1v14h-1zM567 298h1v15h-1zM234 333h1v11h-1zM415 333h1v11h-1z"/><path fill="#00ff55" d="M219 131h2v11h-2zM209 142h1v11h-1zM221 142h1v11h-1zM212 153h1v11h-1zM393 153h1v11h-1zM588 153h1v11h-1zM574 164h1v13h-1zM589 164h1v13h-1zM573 177h1v13h-1zM590 177h1v13h-1zM390 190h1v13h-1zM409 203h1v14h-1zM204 217h1v14h-1zM203 231h1v13h-1zM386 231h1v13h-1zM595 231h1v13h-1zM568 258h1v13h-1zM597 258h1v13h-1zM381 284h1v14h-1zM414 284h1v14h-1zM198 333h1v11h-1zM376 333h1v11h-1z"/><path fill="#00ffae" d="M223 131h1v11h-1zM590 142h1v11h-1zM227 177h1v13h-1zM593 177h1v13h-1zM567 231h1v13h-1zM200 244h1v14h-1zM198 284h1v14h-1zM235 284h1v14h-1zM417 313h1v20h-1zM564 313h1v20h-1z"/><path fill="#00ff47" d="M395 131h1v11h-1zM577 131h1v11h-1zM211 142h1v11h-1zM576 142h1v11h-1zM212 164h1v13h-1zM226 203h1v14h-1zM592 203h1v14h-1zM410 217h1v14h-1zM569 244h1v14h-1zM380 298h1v15h-1zM414 298h1v15h-1z"/><path fill="#00ff4c" d="M403 131h2v11h-2zM585 131h2v11h-2zM394 142h1v11h-1zM587 142h1v11h-1zM397 153h1v11h-1zM579 153h1v11h-1zM208 164h1v13h-1zM207 177h1v13h-1zM591 190h1v13h-1zM412 244h1v14h-1zM384 258h1v13h-1zM231 271h1v13h-1zM568 271h1v13h-1zM598 284h1v14h-1zM199 313h1v20h-1zM378 313h1v20h-1z"/><path fill="#00ffeb" d="M205 142h1v11h-1zM229 177h1v13h-1zM312 244h2v14h-2zM331 244h1v14h-1zM511 244h2v14h-2zM565 244h1v14h-1zM379 258h1v13h-1zM549 258h1v13h-1zM236 271h1v13h-1zM147 284h1v14h-1zM126 298h1v15h-1zM146 298h2v15h-2zM350 298h1v15h-1zM374 298h1v15h-1zM455 298h1v15h-1zM194 333h1v11h-1zM324 333h1v11h-1z"/><path fill="#00ff3e" d="M210 142h1v11h-1zM396 142h1v11h-1zM578 142h1v11h-1zM393 164h1v13h-1zM397 164h1v13h-1zM579 164h1v13h-1zM223 177h1v13h-1zM392 177h1v13h-1zM388 217h1v14h-1zM593 217h1v14h-1zM228 231h1v13h-1zM570 231h1v13h-1zM229 244h1v14h-1zM202 258h1v13h-1zM568 284h1v14h-1z"/><path fill="#00ff42" d="M219 142h2v11h-2zM209 153h1v11h-1zM221 153h1v11h-1zM405 153h1v11h-1zM222 164h1v13h-1zM389 203h1v14h-1zM227 217h1v14h-1zM411 231h1v13h-1zM230 258h1v13h-1zM383 271h1v13h-1zM413 271h1v13h-1zM597 271h1v13h-1zM200 298h1v15h-1zM233 313h1v20h-1zM377 333h1v11h-1zM566 333h1v11h-1z"/><path fill="#00ffca" d="M391 142h1v11h-1zM228 177h1v13h-1zM388 177h1v13h-1zM595 190h1v13h-1zM202 203h1v14h-1zM385 203h1v14h-1zM567 217h1v14h-1zM380 258h1v13h-1zM235 271h1v13h-1zM373 313h1v20h-1zM238 333h1v11h-1zM296 333h1v11h-1zM551 333h1v11h-1z"/><path fill="#00ff30" d="M395 142h1v11h-1zM577 142h1v11h-1zM220 153h1v11h-1zM405 164h1v13h-1zM207 190h1v13h-1zM590 190h1v13h-1zM408 203h1v14h-1zM572 203h1v14h-1zM204 231h1v13h-1zM386 244h1v14h-1zM595 244h1v14h-1zM569 258h1v13h-1zM413 284h1v14h-1zM597 284h1v14h-1z"/><path fill="#00ff39" d="M403 142h2v11h-2zM585 142h1v11h-1zM587 153h1v11h-1zM575 164h1v13h-1zM588 164h1v13h-1zM589 177h1v13h-1zM407 190h1v13h-1zM201 284h1v14h-1zM382 284h1v14h-1zM232 298h1v15h-1zM598 298h1v15h-1zM414 313h1v20h-1z"/><path fill="#00ff34" d="M586 142h1v11h-1zM211 153h1v11h-1zM219 153h1v11h-1zM394 153h1v11h-1zM576 153h1v11h-1zM212 177h1v13h-1zM406 177h1v13h-1zM574 177h1v13h-1zM224 190h1v13h-1zM391 190h1v13h-1zM573 190h1v13h-1zM571 217h1v14h-1zM387 231h1v13h-1zM594 231h1v13h-1zM203 244h1v14h-1zM412 258h1v13h-1zM596 258h1v13h-1zM231 284h1v14h-1zM379 313h1v20h-1zM567 313h1v20h-1zM199 333h1v11h-1zM233 333h1v11h-1z"/><path fill="#00ff2b" d="M210 153h1v11h-1zM396 153h1v11h-1zM578 153h1v11h-1zM209 164h1v13h-1zM221 164h1v13h-1zM208 177h1v13h-1zM397 177h1v13h-1zM579 177h1v13h-1zM206 203h1v14h-1zM225 203h1v14h-1zM205 217h1v14h-1zM385 258h1v13h-1zM230 271h1v13h-1zM381 298h1v15h-1zM568 298h1v15h-1zM200 313h1v20h-1zM378 333h1v11h-1zM414 333h1v11h-1z"/><path fill="#00ff22" d="M395 153h1v11h-1zM577 153h1v11h-1zM586 153h1v11h-1zM211 164h1v13h-1zM219 164h1v13h-1zM394 164h1v13h-1zM587 164h1v13h-1zM409 217h1v14h-1zM227 231h1v13h-1zM410 231h1v13h-1zM229 258h1v13h-1zM569 271h1v13h-1zM596 271h1v13h-1zM201 298h1v15h-1zM413 298h1v15h-1zM598 313h1v20h-1z"/><path fill="#00ff26" d="M403 153h2v11h-2zM585 153h1v11h-1zM222 177h1v13h-1zM390 203h1v14h-1zM591 203h1v14h-1zM226 217h1v14h-1zM411 244h1v14h-1zM202 271h1v13h-1zM384 271h1v13h-1zM232 313h1v20h-1z"/><path fill="#00ff18" d="M210 164h1v13h-1zM396 164h1v13h-1zM578 164h1v13h-1zM575 177h1v13h-1zM212 190h1v13h-1zM392 190h1v13h-1zM589 190h1v13h-1zM388 231h1v13h-1zM571 231h1v13h-1zM593 231h1v13h-1zM203 258h1v13h-1zM595 258h1v13h-1zM230 284h1v14h-1zM232 333h1v11h-1z"/><path fill="#00ff1d" d="M220 164h1v13h-1zM576 164h1v13h-1zM393 177h1v13h-1zM588 177h1v13h-1zM223 190h1v13h-1zM389 217h1v14h-1zM592 217h1v14h-1zM228 244h1v14h-1zM570 244h1v14h-1zM412 271h1v13h-1zM383 284h1v14h-1zM231 298h1v15h-1zM597 298h1v15h-1zM380 313h1v20h-1zM567 333h1v11h-1z"/><path fill="#00ff0a" d="M395 164h1v13h-1zM577 164h1v13h-1zM211 177h1v13h-1zM207 203h1v14h-1zM391 203h1v14h-1zM407 203h1v14h-1zM590 203h1v14h-1zM206 217h1v14h-1zM225 217h1v14h-1zM205 231h1v13h-1zM570 258h1v13h-1zM385 271h1v13h-1zM412 284h1v14h-1zM231 313h1v20h-1z"/><path fill="#00ff13" d="M403 164h2v13h-2zM585 164h1v13h-1zM405 177h1v13h-1zM397 190h1v13h-1zM406 190h1v13h-1zM574 190h1v13h-1zM579 190h1v13h-1zM224 203h1v14h-1zM573 203h1v14h-1zM572 217h1v14h-1zM594 244h1v14h-1zM202 284h1v14h-1zM569 284h1v14h-1zM382 298h1v15h-1zM413 313h1v20h-1zM200 333h1v11h-1zM379 333h1v11h-1z"/><path fill="#00ff0f" d="M586 164h1v13h-1zM209 177h1v13h-1zM221 177h1v13h-1zM208 190h1v13h-1zM204 244h1v14h-1zM387 244h1v14h-1zM386 258h1v13h-1zM411 258h1v13h-1zM229 271h1v13h-1zM596 284h1v14h-1zM568 313h1v20h-1zM598 333h1v11h-1z"/><path fill="#00ffe6" d="M203 177h1v13h-1zM410 177h1v13h-1zM230 190h1v13h-1zM411 190h1v13h-1zM567 203h1v14h-1zM597 203h1v14h-1zM383 217h1v14h-1zM414 217h1v14h-1zM278 244h1v14h-1zM293 244h2v14h-2zM501 244h1v14h-1zM525 244h1v14h-1zM534 244h2v14h-2zM497 258h1v13h-1zM122 298h1v15h-1zM121 313h1v20h-1zM169 313h1v20h-1zM372 313h1v20h-1zM436 313h2v20h-2zM479 313h1v20h-1zM540 313h1v20h-1zM145 333h1v11h-1zM239 333h1v11h-1zM370 333h1v11h-1z"/><path fill="#08ff00" d="M210 177h1v13h-1zM403 177h1v13h-1zM585 177h1v13h-1zM393 190h1v13h-1zM575 190h1v13h-1zM588 190h1v13h-1zM223 203h1v14h-1zM409 231h1v13h-1zM592 231h1v13h-1zM571 244h1v14h-1zM570 271h1v13h-1zM229 284h1v14h-1zM202 298h1v15h-1zM383 298h1v15h-1zM412 298h1v15h-1zM596 298h1v15h-1zM231 333h1v11h-1zM380 333h1v11h-1zM568 333h1v11h-1z"/><path fill="#00ff05" d="M219 177h1v13h-1zM394 177h1v13h-1zM587 177h1v13h-1zM222 190h1v13h-1zM226 231h1v13h-1zM228 258h1v13h-1zM595 271h1v13h-1zM201 313h1v20h-1zM381 313h1v20h-1zM597 313h1v20h-1zM413 333h1v11h-1z"/><path fill="#00ff01" d="M220 177h1v13h-1zM396 177h1v13h-1zM576 177h1v13h-1zM578 177h1v13h-1zM212 203h1v14h-1zM390 217h1v14h-1zM408 217h1v14h-1zM591 217h1v14h-1zM227 244h1v14h-1zM410 244h1v14h-1zM203 271h1v13h-1zM384 284h1v14h-1zM230 298h1v15h-1zM569 298h1v15h-1z"/><path fill="#19ff00" d="M395 177h1v13h-1zM577 177h1v13h-1zM586 177h1v13h-1zM209 190h1v13h-1zM221 190h1v13h-1zM405 190h1v13h-1zM574 203h1v14h-1zM589 203h1v14h-1zM573 217h1v14h-1zM572 231h1v13h-1zM388 244h1v14h-1zM593 244h1v14h-1zM204 258h1v13h-1zM228 271h1v13h-1zM595 284h1v14h-1zM201 333h1v11h-1zM597 333h1v11h-1z"/><path fill="#11ff00" d="M404 177h1v13h-1zM397 203h1v14h-1zM579 203h1v14h-1zM389 231h1v13h-1zM594 258h1v13h-1zM411 271h1v13h-1z"/><path fill="#46ff00" d="M210 190h1v13h-1zM403 190h1v13h-1zM585 190h1v13h-1zM588 203h1v14h-1zM397 217h1v14h-1zM579 217h1v14h-1zM390 231h1v13h-1zM408 231h1v13h-1zM593 258h1v13h-1zM203 298h1v15h-1zM411 298h1v15h-1z"/><path fill="#22ff00" d="M211 190h1v13h-1zM392 203h1v14h-1zM224 217h1v14h-1zM387 258h1v13h-1zM386 271h1v13h-1zM203 284h1v14h-1zM570 284h1v14h-1zM230 313h1v20h-1zM382 313h1v20h-1zM412 313h1v20h-1z"/><path fill="#2bff00" d="M219 190h1v13h-1zM208 203h1v14h-1zM406 203h1v14h-1zM590 217h1v14h-1zM225 231h1v13h-1zM205 244h1v14h-1zM227 258h1v13h-1zM410 258h1v13h-1zM594 271h1v13h-1zM385 284h1v14h-1zM569 313h1v20h-1zM596 313h1v20h-1zM381 333h1v11h-1z"/><path fill="#3dff00" d="M220 190h1v13h-1zM396 190h1v13h-1zM578 190h1v13h-1zM407 217h1v14h-1zM591 231h1v13h-1zM409 244h1v14h-1zM204 271h1v13h-1zM228 284h1v14h-1zM570 298h1v15h-1zM595 298h1v15h-1zM230 333h1v11h-1z"/><path fill="#34ff00" d="M394 190h1v13h-1zM576 190h1v13h-1zM587 190h1v13h-1zM222 203h1v14h-1zM207 217h1v14h-1zM212 217h1v14h-1zM391 217h1v14h-1zM206 231h1v13h-1zM226 244h1v14h-1zM571 258h1v13h-1zM411 284h1v14h-1zM229 298h1v15h-1zM384 298h1v15h-1zM202 313h1v20h-1zM412 333h1v11h-1z"/><path fill="#58ff00" d="M395 190h1v13h-1zM577 190h1v13h-1zM574 217h1v14h-1zM224 231h1v13h-1zM573 231h1v13h-1zM388 258h1v13h-1zM387 271h1v13h-1zM386 284h1v14h-1zM229 313h1v20h-1zM202 333h1v11h-1zM382 333h1v11h-1z"/><path fill="#4fff00" d="M404 190h1v13h-1zM586 190h1v13h-1zM393 203h1v14h-1zM575 203h1v14h-1zM223 217h1v14h-1zM389 244h1v14h-1zM572 244h1v14h-1zM592 244h1v14h-1zM227 271h1v13h-1zM410 271h1v13h-1zM571 271h1v13h-1zM594 284h1v14h-1zM383 313h1v20h-1zM569 333h1v11h-1zM596 333h1v11h-1z"/><path fill="#61ff00" d="M209 203h1v14h-1zM211 203h1v14h-1zM221 203h1v14h-1zM405 203h1v14h-1zM589 217h1v14h-1zM212 231h1v13h-1zM205 258h1v13h-1zM226 258h1v13h-1zM593 271h1v13h-1zM204 284h1v14h-1zM228 298h1v15h-1zM385 298h1v15h-1zM411 313h1v20h-1zM595 313h1v20h-1z"/><path fill="#85ff00" d="M210 203h1v14h-1zM403 203h1v14h-1zM585 203h1v14h-1zM407 231h1v13h-1zM390 244h1v14h-1zM408 244h1v14h-1zM389 258h1v13h-1zM226 271h1v13h-1zM388 271h1v13h-1zM593 284h1v14h-1zM204 298h1v15h-1zM571 298h1v15h-1zM228 313h1v20h-1z"/><path fill="#6aff00" d="M219 203h1v14h-1zM208 217h1v14h-1zM392 217h1v14h-1zM225 244h1v14h-1zM409 258h1v13h-1zM571 284h1v14h-1zM570 313h1v20h-1zM229 333h1v11h-1z"/><path fill="#7cff00" d="M220 203h1v14h-1zM394 203h1v14h-1zM396 203h1v14h-1zM576 203h1v14h-1zM578 203h1v14h-1zM222 217h1v14h-1zM406 217h1v14h-1zM391 231h1v13h-1zM591 244h1v14h-1zM592 258h1v13h-1zM205 271h1v13h-1zM383 333h1v11h-1zM411 333h1v11h-1zM595 333h1v11h-1z"/><path fill="#96ff00" d="M395 203h1v14h-1zM404 203h1v14h-1zM577 203h1v14h-1zM586 203h1v14h-1zM393 217h1v14h-1zM212 244h1v14h-1zM224 244h1v14h-1zM225 258h1v13h-1zM592 271h1v13h-1zM227 298h1v15h-1zM594 313h1v20h-1zM203 333h1v11h-1z"/><path fill="#73ff00" d="M587 203h1v14h-1zM207 231h1v13h-1zM397 231h1v13h-1zM579 231h1v13h-1zM590 231h1v13h-1zM206 244h1v14h-1zM572 258h1v13h-1zM227 284h1v14h-1zM410 284h1v14h-1zM594 298h1v15h-1zM203 313h1v20h-1zM384 313h1v20h-1z"/><path fill="#00fffe" d="M174 217h1v14h-1zM239 217h1v14h-1zM304 217h1v14h-1zM341 217h2v14h-2zM364 217h1v14h-1zM555 217h1v14h-1zM562 231h3v13h-3zM255 244h1v14h-1zM422 244h1v14h-1zM170 258h3v13h-3zM180 258h1v13h-1zM193 258h2v13h-2zM245 258h2v13h-2zM261 258h2v13h-2zM275 258h1v13h-1zM282 258h1v13h-1zM287 258h2v13h-2zM302 258h1v13h-1zM308 258h2v13h-2zM442 258h3v13h-3zM471 258h1v13h-1zM482 258h1v13h-1zM494 258h1v13h-1zM523 258h1v13h-1zM525 258h1v13h-1zM541 258h2v13h-2zM124 271h1v13h-1zM139 271h3v13h-3zM295 271h1v13h-1zM317 271h1v13h-1zM329 271h2v13h-2zM470 271h1v13h-1zM458 284h1v14h-1zM181 298h1v15h-1zM556 298h2v15h-2z"/><path fill="#9fff00" d="M209 217h1v14h-1zM211 217h1v14h-1zM221 217h1v14h-1zM589 231h1v13h-1zM206 258h1v13h-1zM205 284h1v14h-1zM593 298h1v15h-1zM385 313h1v20h-1zM410 313h1v20h-1zM228 333h1v11h-1z"/><path fill="#ccff00" d="M210 217h1v14h-1zM575 231h1v13h-1zM588 231h1v13h-1zM223 244h1v14h-1zM574 244h1v14h-1zM408 271h1v13h-1zM573 271h1v13h-1zM591 271h1v13h-1zM409 298h1v15h-1zM572 298h1v15h-1zM227 333h1v11h-1zM385 333h1v11h-1zM571 333h1v11h-1z"/><path fill="#b1ff00" d="M219 217h1v14h-1zM207 244h1v14h-1zM590 244h1v14h-1zM212 258h1v13h-1zM573 258h1v13h-1zM225 271h1v13h-1zM409 284h1v14h-1zM204 313h1v20h-1zM571 313h1v20h-1zM594 333h1v11h-1z"/><path fill="#c3ff00" d="M220 217h1v14h-1zM394 217h1v14h-1zM403 217h1v14h-1zM585 217h1v14h-1zM224 258h1v13h-1zM397 258h1v13h-1zM579 258h1v13h-1zM212 271h1v13h-1zM205 298h1v15h-1zM226 298h1v15h-1zM386 313h1v20h-1zM593 313h1v20h-1z"/><path fill="#00f8ff" d="M256 217h4v14h-4zM355 217h1v14h-1zM560 217h1v14h-1zM185 244h2v14h-2zM267 244h1v14h-1zM290 244h1v14h-1zM298 244h1v14h-1zM322 244h1v14h-1zM326 244h1v14h-1zM417 244h1v14h-1zM485 244h1v14h-1zM545 244h1v14h-1zM113 258h1v13h-1zM151 258h1v13h-1zM191 258h1v13h-1zM296 258h1v13h-1zM314 258h1v13h-1zM337 258h1v13h-1zM346 258h2v13h-2zM376 258h1v13h-1zM463 258h1v13h-1zM520 258h1v13h-1zM543 271h1v13h-1z"/><path fill="#deff00" d="M395 217h1v14h-1zM577 217h1v14h-1zM209 231h1v13h-1zM211 231h1v13h-1zM221 231h1v13h-1zM589 244h1v14h-1zM207 258h1v13h-1zM590 258h1v13h-1zM224 271h1v13h-1zM206 284h1v14h-1zM409 313h1v20h-1zM593 333h1v11h-1z"/><path fill="#baff00" d="M396 217h1v14h-1zM576 217h1v14h-1zM578 217h1v14h-1zM587 217h1v14h-1zM222 231h1v13h-1zM406 231h1v13h-1zM391 244h1v14h-1zM407 244h1v14h-1zM390 258h1v13h-1zM206 271h1v13h-1zM389 271h1v13h-1zM388 284h1v14h-1zM592 284h1v14h-1zM387 298h1v15h-1zM227 313h1v20h-1zM410 333h1v11h-1z"/><path fill="#d5ff00" d="M404 217h1v14h-1zM586 217h1v14h-1zM393 231h1v13h-1zM397 271h1v13h-1zM579 271h1v13h-1zM212 284h1v14h-1zM225 284h1v14h-1zM592 298h1v15h-1zM204 333h1v11h-1z"/><path fill="#a8ff00" d="M405 217h1v14h-1zM208 231h1v13h-1zM392 231h1v13h-1zM397 244h1v14h-1zM579 244h1v14h-1zM408 258h1v13h-1zM591 258h1v13h-1zM226 284h1v14h-1zM572 284h1v14h-1zM384 333h1v11h-1z"/><path fill="#00fff4" d="M452 217h2v14h-2zM133 231h1v13h-1zM158 231h2v13h-2zM247 231h2v13h-2zM272 231h1v13h-1zM333 231h1v13h-1zM422 231h2v13h-2zM468 231h1v13h-1zM480 231h2v13h-2zM537 231h2v13h-2zM274 244h2v14h-2zM361 258h1v13h-1zM370 258h1v13h-1zM561 258h1v13h-1zM130 271h1v13h-1zM185 271h1v13h-1zM307 271h4v13h-4zM363 271h3v13h-3zM374 271h4v13h-4zM423 271h1v13h-1zM460 271h1v13h-1zM514 271h1v13h-1zM556 271h1v13h-1zM114 284h4v14h-4zM122 284h4v14h-4zM156 284h2v14h-2zM164 284h2v14h-2zM254 284h1v14h-1zM256 284h1v14h-1zM268 284h1v14h-1zM305 284h1v14h-1zM322 284h4v14h-4zM366 284h1v14h-1zM427 284h1v14h-1zM466 284h4v14h-4zM493 284h2v14h-2zM187 298h3v15h-3zM282 298h1v15h-1zM321 298h1v15h-1zM359 298h1v15h-1zM435 298h1v15h-1zM482 298h1v15h-1zM486 298h1v15h-1zM489 298h2v15h-2zM515 298h1v15h-1z"/><path fill="#8dff00" d="M575 217h1v14h-1zM588 217h1v14h-1zM223 231h1v13h-1zM574 231h1v13h-1zM573 244h1v14h-1zM409 271h1v13h-1zM572 271h1v13h-1zM387 284h1v14h-1zM386 298h1v15h-1zM410 298h1v15h-1zM570 333h1v11h-1z"/><path fill="#fffe00" d="M210 231h1v13h-1zM220 231h1v13h-1zM394 231h1v13h-1zM575 244h1v14h-1zM407 271h1v13h-1zM224 284h1v14h-1zM206 298h1v15h-1zM408 298h1v15h-1zM591 298h1v15h-1zM212 313h1v20h-1z"/><path fill="#e7ff00" d="M219 231h1v13h-1zM405 231h1v13h-1zM208 244h1v14h-1zM392 244h1v14h-1zM391 258h1v13h-1zM407 258h1v13h-1zM390 271h1v13h-1zM389 284h1v14h-1zM397 284h1v14h-1zM408 284h1v14h-1zM573 284h1v14h-1zM579 284h1v14h-1zM591 284h1v14h-1zM388 298h1v15h-1zM205 313h1v20h-1zM226 313h1v20h-1z"/><path fill="#fff400" d="M395 231h1v13h-1zM577 231h1v13h-1zM209 244h1v14h-1zM219 244h1v14h-1zM221 244h1v14h-1zM222 258h1v13h-1zM406 258h1v13h-1zM224 298h1v15h-1zM206 313h1v20h-1zM408 313h1v20h-1zM397 333h1v11h-1zM579 333h1v11h-1z"/><path fill="#f0ff00" d="M396 231h1v13h-1zM578 231h1v13h-1zM587 231h1v13h-1zM222 244h1v14h-1zM223 258h1v13h-1zM574 258h1v13h-1zM212 298h1v15h-1zM225 298h1v15h-1zM387 313h1v20h-1zM572 313h1v20h-1zM386 333h1v11h-1z"/><path fill="#f9ff00" d="M403 231h1v13h-1zM576 231h1v13h-1zM585 231h1v13h-1zM406 244h1v14h-1zM207 271h1v13h-1zM590 271h1v13h-1zM397 298h1v15h-1zM579 298h1v15h-1zM592 313h1v20h-1zM226 333h1v11h-1zM409 333h1v11h-1z"/><path fill="#fff800" d="M404 231h1v13h-1zM586 231h1v13h-1zM211 244h1v14h-1zM393 244h1v14h-1zM208 258h1v13h-1zM392 258h1v13h-1zM207 284h1v14h-1zM590 284h1v14h-1zM225 313h1v20h-1zM388 313h1v20h-1zM397 313h1v20h-1zM579 313h1v20h-1zM212 333h1v11h-1zM387 333h1v11h-1zM592 333h1v11h-1z"/><path fill="#ffe700" d="M210 244h1v14h-1zM209 258h1v13h-1zM219 258h1v13h-1zM221 258h1v13h-1zM393 258h1v13h-1zM575 271h1v13h-1zM589 284h1v14h-1zM574 298h1v15h-1zM224 313h1v20h-1zM206 333h1v11h-1zM591 333h1v11h-1z"/><path fill="#ffeb00" d="M220 244h1v14h-1zM394 244h1v14h-1zM403 244h1v14h-1zM576 244h1v14h-1zM585 244h1v14h-1zM211 258h1v13h-1zM222 271h1v13h-1zM392 271h1v13h-1zM406 271h1v13h-1zM391 284h1v14h-1zM207 298h1v15h-1zM390 298h1v15h-1zM407 298h1v15h-1zM389 313h1v20h-1zM388 333h1v11h-1zM408 333h1v11h-1z"/><path fill="#ffe100" d="M395 244h1v14h-1zM404 244h1v14h-1zM577 244h1v14h-1zM586 244h1v14h-1zM211 271h1v13h-1zM222 284h1v14h-1zM406 284h1v14h-1zM207 313h1v20h-1zM407 313h1v20h-1zM590 313h1v20h-1zM224 333h1v11h-1z"/><path fill="#ffee00" d="M396 244h1v14h-1zM578 244h1v14h-1zM587 244h1v14h-1zM588 258h1v13h-1zM208 271h1v13h-1zM223 284h1v14h-1zM590 298h1v15h-1z"/><path fill="#fff100" d="M405 244h1v14h-1zM575 258h1v13h-1zM589 271h1v13h-1zM407 284h1v14h-1zM574 284h1v14h-1zM573 313h1v20h-1zM591 313h1v20h-1zM225 333h1v11h-1z"/><path fill="#fffb00" d="M588 244h1v14h-1zM589 258h1v13h-1zM223 271h1v13h-1zM391 271h1v13h-1zM574 271h1v13h-1zM390 284h1v14h-1zM389 298h1v15h-1zM573 298h1v15h-1zM205 333h1v11h-1zM572 333h1v11h-1z"/><path fill="#ffda00" d="M210 258h1v13h-1zM394 258h1v13h-1zM396 271h1v13h-1zM405 271h1v13h-1zM578 271h1v13h-1zM208 298h1v15h-1zM223 313h1v20h-1zM574 313h1v20h-1zM590 333h1v11h-1z"/><path fill="#ffde00" d="M220 258h1v13h-1zM403 258h1v13h-1zM576 258h1v13h-1zM585 258h1v13h-1zM587 258h1v13h-1zM209 271h1v13h-1zM219 271h1v13h-1zM221 271h1v13h-1zM393 271h1v13h-1zM392 284h1v14h-1zM575 284h1v14h-1zM391 298h1v15h-1zM589 298h1v15h-1zM390 313h1v20h-1zM389 333h1v11h-1z"/><path fill="#ffd100" d="M395 258h1v13h-1zM577 258h1v13h-1zM210 271h1v13h-1zM394 271h1v13h-1zM393 284h1v14h-1zM396 284h1v14h-1zM578 284h1v14h-1zM211 298h1v15h-1zM391 313h1v20h-1zM223 333h1v11h-1zM574 333h1v11h-1z"/><path fill="#ffe400" d="M396 258h1v13h-1zM405 258h1v13h-1zM578 258h1v13h-1zM588 271h1v13h-1zM208 284h1v14h-1zM223 298h1v15h-1zM573 333h1v11h-1z"/><path fill="#ffd400" d="M404 258h1v13h-1zM586 258h1v13h-1zM220 271h1v13h-1zM403 271h1v13h-1zM576 271h1v13h-1zM585 271h1v13h-1zM587 271h1v13h-1zM209 284h1v14h-1zM219 284h1v14h-1zM221 284h1v14h-1zM392 298h1v15h-1zM575 298h1v15h-1zM589 313h1v20h-1zM390 333h1v11h-1z"/><path fill="#ffc700" d="M395 271h1v13h-1zM577 271h1v13h-1zM210 284h1v14h-1zM394 284h1v14h-1zM393 298h1v15h-1zM396 298h1v15h-1zM405 298h1v15h-1zM578 298h1v15h-1zM211 313h1v20h-1zM392 313h1v20h-1zM208 333h1v11h-1zM391 333h1v11h-1zM406 333h1v11h-1z"/><path fill="#ffca00" d="M404 271h1v13h-1zM586 271h1v13h-1zM220 284h1v14h-1zM576 284h1v14h-1zM587 284h1v14h-1zM209 298h1v15h-1zM219 298h1v15h-1zM221 298h1v15h-1zM575 313h1v20h-1zM589 333h1v11h-1z"/><path fill="#ffd700" d="M211 284h1v14h-1zM588 284h1v14h-1zM222 298h1v15h-1zM406 298h1v15h-1zM207 333h1v11h-1zM407 333h1v11h-1z"/><path fill="#ffbd00" d="M395 284h1v14h-1zM577 284h1v14h-1zM210 298h1v15h-1zM394 298h1v15h-1zM393 313h1v20h-1zM405 313h1v20h-1zM392 333h1v11h-1zM588 333h1v11h-1z"/><path fill="#ffcd00" d="M403 284h1v14h-1zM405 284h1v14h-1zM585 284h1v14h-1zM588 298h1v15h-1zM208 313h1v20h-1zM222 313h1v20h-1zM406 313h1v20h-1z"/><path fill="#ffc000" d="M404 284h1v14h-1zM586 284h1v14h-1zM220 298h1v15h-1zM576 298h1v15h-1zM587 298h1v15h-1zM209 313h1v20h-1zM221 313h1v20h-1zM396 313h1v20h-1zM578 313h1v20h-1zM211 333h1v11h-1zM575 333h1v11h-1z"/><path fill="#ffb700" d="M395 298h1v15h-1zM404 298h1v15h-1zM577 298h1v15h-1zM586 298h1v15h-1zM220 313h1v20h-1zM209 333h1v11h-1zM396 333h1v11h-1zM578 333h1v11h-1z"/><path fill="#ffc400" d="M403 298h1v15h-1zM585 298h1v15h-1zM219 313h1v20h-1zM588 313h1v20h-1zM222 333h1v11h-1z"/><path fill="#ffb300" d="M210 313h1v20h-1zM394 313h1v20h-1zM393 333h1v11h-1zM403 333h1v11h-1zM405 333h1v11h-1zM585 333h1v11h-1z"/><path fill="#ffad00" d="M395 313h1v20h-1zM577 313h1v20h-1zM586 313h1v20h-1zM210 333h1v11h-1z"/><path fill="#ffba00" d="M403 313h1v20h-1zM576 313h1v20h-1zM585 313h1v20h-1zM587 313h1v20h-1zM219 333h1v11h-1zM221 333h1v11h-1z"/><path fill="#ffb000" d="M404 313h1v20h-1zM220 333h1v11h-1zM576 333h1v11h-1zM587 333h1v11h-1z"/><path fill="#ffaa00" d="M394 333h1v11h-1z"/><path fill="#ffa300" d="M395 333h1v11h-1zM577 333h1v11h-1z"/><path fill="#ffa600" d="M404 333h1v11h-1zM586 333h1v11h-1z"/></g><g shape-rendering="crispEdges"><rect x="111.5" y="55.5" width="488" height="302" fill="none" stroke="#000"/><path d="M112.5 358v10M132.5 358v5M152.5 358v5M172.5 358v5M193.5 358v5M213.5 358v5M233.5 358v10M254.5 358v5M274.5 358v5M294.5 358v5M314.5 358v5M335.5 358v5M355.5 358v10M375.5 358v5M396.5 358v5M416.5 358v5M436.5 358v5M456.5 358v5M477.5 358v10M497.5 358v5M517.5 358v5M538.5 358v5M558.5 358v5M578.5 358v5M599.5 358v10" stroke="#000"/><path d="M101 91.5h10M101 295.5h10M106 356.5h5M106 340.5h5M106 327.5h5M106 315.5h5M106 304.5h5M106 234.5h5M106 198.5h5M106 172.5h5M106 152.5h5M106 136.5h5M106 123.5h5M106 111.5h5M106 100.5h5" stroke="#000"/></g><text x="70" y="98.5">10<tspan dy="-7">3</tspan></text><text x="70" y="302.5">10<tspan dy="-7">2</tspan></text><text transform="translate(54.7 206.5) rotate(-90)" text-anchor="middle">FPDI<tspan dy="4.5" font-size="9.5">Energy</tspan><tspan dy="-4.5"> (MeV)</tspan></text><defs><linearGradient id="cb" x1="0" y1="1" x2="0" y2="0"><stop offset="0.0000" stop-color="#000080"/><stop offset="0.1237" stop-color="#0000ff"/><stop offset="0.2462" stop-color="#00ffff"/><stop offset="0.5001" stop-color="#00ff00"/><stop offset="0.6334" stop-color="#ffff00"/><stop offset="1.0000" stop-color="#ff0000"/></linearGradient></defs><rect x="613" y="57" width="14" height="300" fill="url(#cb)"/><path shape-rendering="crispEdges" d="M627.5 57v301M628 77.5h5M628 112.5h10M628 147.5h5M628 182.5h10M628 217.5h5M628 252.5h10M628 287.5h5M628 322.5h10M628 357.5h5" stroke="#000"/><text x="643.5" y="120">10<tspan dy="-7">2</tspan></text><text x="643.5" y="190">10<tspan dy="-7">0</tspan></text><text x="643.5" y="260">10<tspan dy="-7">-2</tspan></text><text x="643.5" y="330">10<tspan dy="-7">-4</tspan></text><text transform="translate(685 205.9) rotate(90)" text-anchor="middle" textLength="170.9" lengthAdjust="spacing">FPDI (#/cm^2/s/sr/MeV)</text><text x="355.4" y="397.8" text-anchor="middle" textLength="255.0" lengthAdjust="spacing">RPS&#160;&#160;Dose rate in Dosimeter 1 (front)</text><g shape-rendering="crispEdges"><rect x="111.5" y="407.5" width="488" height="107" fill="none" stroke="#000"/><path d="M112.5 515v10M132.5 515v5M152.5 515v5M172.5 515v5M193.5 515v5M213.5 515v5M233.5 515v10M254.5 515v5M274.5 515v5M294.5 515v5M314.5 515v5M335.5 515v5M355.5 515v10M375.5 515v5M396.5 515v5M416.5 515v5M436.5 515v5M456.5 515v5M477.5 515v10M497.5 515v5M517.5 515v5M538.5 515v5M558.5 515v5M578.5 515v5M599.5 515v10" stroke="#000"/><path d="M101 419.5h10M101 446.5h10M101 472.5h10M101 499.5h10M106 512.5h5M106 509.5h5M106 506.5h5M106 504.5h5M106 503.5h5M106 501.5h5M106 500.5h5M106 491.5h5M106 486.5h5M106 483.5h5M106 480.5h5M106 478.5h5M106 476.5h5M106 475.5h5M106 473.5h5M106 464.5h5M106 459.5h5M106 456.5h5M106 454.5h5M106 451.5h5M106 450.5h5M106 448.5h5M106 447.5h5M106 438.5h5M106 433.5h5M106 430.5h5M106 427.5h5M106 425.5h5M106 423.5h5M106 422.5h5M106 420.5h5M106 411.5h5" stroke="#000"/></g><text x="65.5" y="426.6">10<tspan dy="-7">-3</tspan></text><text x="65.5" y="453.07000000000005">10<tspan dy="-7">-4</tspan></text><text x="65.5" y="479.54">10<tspan dy="-7">-5</tspan></text><text x="65.5" y="506.01">10<tspan dy="-7">-6</tspan></text><text transform="translate(53.3 460.7) rotate(-90)" text-anchor="middle" textLength="70.7" lengthAdjust="spacing">(rads/sec)</text><svg x="111" y="407" width="489" height="108" viewBox="111 407 489 108" overflow="hidden"><path d="M112.0 515.0 112.4 515.0 112.4 515.0 112.6 515.0 112.6 515.0 113.0 515.0 113.0 508.0 113.2 508.0 113.2 508.0 113.3 508.0 113.3 508.0 113.6 508.0 113.6 508.0 113.7 508.0 113.7 500.3 114.4 500.3 114.4 515.0 114.8 515.0 114.8 508.0 115.1 508.0 115.1 503.2 115.6 503.2 115.6 515.0 116.0 515.0 116.0 515.0 116.3 515.0 116.3 515.0 116.7 515.0 116.7 508.0 117.0 508.0 117.0 515.0 117.3 515.0 117.3 508.0 117.5 508.0 117.5 515.0 117.8 515.0 117.8 508.0 118.1 508.0 118.1 515.0 118.4 515.0 118.4 515.0 118.8 515.0 118.8 515.0 119.2 515.0 119.2 508.0 119.4 508.0 119.4 515.0 119.8 515.0 119.8 508.0 120.1 508.0 120.1 508.0 120.4 508.0 120.4 515.0 120.6 515.0 120.6 508.0 120.8 508.0 120.8 508.0 121.1 508.0 121.1 515.0 121.3 515.0 121.3 515.0 121.7 515.0 121.7 508.0 121.8 508.0 121.8 515.0 122.2 515.0 122.2 503.2 122.6 503.2 122.6 503.2 122.9 503.2 122.9 515.0 123.1 515.0 123.1 515.0 123.3 515.0 123.3 508.0 123.7 508.0 123.7 515.0 124.0 515.0 124.0 515.0 124.3 515.0 124.3 503.2 125.1 503.2 125.1 508.0 125.3 508.0 125.3 508.0 125.6 508.0 125.6 508.0 126.0 508.0 126.0 508.0 126.1 508.0 126.1 515.0 126.5 515.0 126.5 508.0 126.9 508.0 126.9 508.0 127.1 508.0 127.1 508.0 127.2 508.0 127.2 493.2 127.4 493.2 127.4 515.0 127.7 515.0 127.7 503.2 128.6 503.2 128.6 515.0 129.0 515.0 129.0 515.0 129.3 515.0 129.3 515.0 129.7 515.0 129.7 515.0 129.9 515.0 129.9 515.0 130.3 515.0 130.3 515.0 130.6 515.0 130.6 515.0 130.9 515.0 130.9 508.0 131.2 508.0 131.2 515.0 131.4 515.0 131.4 508.0 131.7 508.0 131.7 500.3 132.3 500.3 132.3 515.0 132.6 515.0 132.6 508.0 133.0 508.0 133.0 515.0 133.2 515.0 133.2 508.0 133.3 508.0 133.3 515.0 133.6 515.0 133.6 508.0 133.8 508.0 133.8 515.0 134.2 515.0 134.2 515.0 134.6 515.0 134.6 508.0 134.8 508.0 134.8 508.0 134.9 508.0 134.9 515.0 135.1 515.0 135.1 515.0 135.4 515.0 135.4 490.7 135.6 490.7 135.6 503.2 136.2 503.2 136.2 503.2 136.4 503.2 136.4 515.0 136.8 515.0 136.8 503.2 137.7 503.2 137.7 508.0 138.1 508.0 138.1 508.0 138.3 508.0 138.3 503.2 139.0 503.2 139.0 508.0 139.2 508.0 139.2 515.0 139.5 515.0 139.5 508.0 139.6 508.0 139.6 515.0 139.9 515.0 139.9 515.0 140.3 515.0 140.3 515.0 140.6 515.0 140.6 515.0 140.8 515.0 140.8 508.0 141.2 508.0 141.2 508.0 141.4 508.0 141.4 515.0 141.6 515.0 141.6 515.0 141.9 515.0 141.9 508.0 142.2 508.0 142.2 508.0 142.5 508.0 142.5 515.0 142.9 515.0 142.9 515.0 143.2 515.0 143.2 515.0 143.4 515.0 143.4 508.0 143.6 508.0 143.6 515.0 144.0 515.0 144.0 503.2 144.5 503.2 144.5 503.2 144.9 503.2 144.9 515.0 145.2 515.0 145.2 515.0 145.7 515.0 145.7 500.3 145.9 500.3 145.9 515.0 146.2 515.0 146.2 497.9 146.4 497.9 146.4 515.0 146.8 515.0 146.8 508.0 147.1 508.0 147.1 508.0 147.3 508.0 147.3 515.0 147.6 515.0 147.6 508.0 147.7 508.0 147.7 515.0 148.1 515.0 148.1 515.0 148.2 515.0 148.2 508.0 151.5 508.0 151.5 508.0 151.7 508.0 151.7 515.0 152.1 515.0 152.1 508.0 152.4 508.0 152.4 515.0 152.8 515.0 152.8 515.0 153.1 515.0 153.1 515.0 153.3 515.0 153.3 508.0 153.7 508.0 153.7 515.0 154.0 515.0 154.0 515.0 154.4 515.0 154.4 515.0 154.8 515.0 154.8 515.0 155.1 515.0 155.1 515.0 155.4 515.0 155.4 508.0 155.6 508.0 155.6 508.0 155.7 508.0 155.7 515.0 156.0 515.0 156.0 515.0 156.2 515.0 156.2 508.0 156.5 508.0 156.5 508.0 156.8 508.0 156.8 508.0 157.1 508.0 157.1 508.0 157.5 508.0 157.5 515.0 157.7 515.0 157.7 515.0 158.1 515.0 158.1 515.0 158.3 515.0 158.3 495.5 158.5 495.5 158.5 508.0 158.6 508.0 158.6 515.0 158.9 515.0 158.9 503.2 159.5 503.2 159.5 508.0 159.7 508.0 159.7 515.0 160.1 515.0 160.1 508.0 160.3 508.0 160.3 515.0 160.8 515.0 160.8 515.0 161.0 515.0 161.0 508.0 161.4 508.0 161.4 508.0 161.5 508.0 161.5 508.0 161.6 508.0 161.6 508.0 161.8 508.0 161.8 508.0 162.0 508.0 162.0 515.0 162.5 515.0 162.5 515.0 162.8 515.0 162.8 515.0 163.0 515.0 163.0 500.3 163.3 500.3 163.3 500.3 164.0 500.3 164.0 508.0 164.1 508.0 164.1 508.0 164.3 508.0 164.3 508.0 164.6 508.0 164.6 508.0 164.8 508.0 164.8 515.0 165.1 515.0 165.1 515.0 165.4 515.0 165.4 497.7 165.6 497.7 165.6 508.0 165.8 508.0 165.8 515.0 166.2 515.0 166.2 515.0 166.4 515.0 166.4 515.0 166.8 515.0 166.8 488.3 167.0 488.3 167.0 508.0 167.3 508.0 167.3 503.2 168.1 503.2 168.1 508.0 168.3 508.0 168.3 508.0 168.6 508.0 168.6 508.0 168.9 508.0 168.6 503.0 168.8 504.5 169.1 501.4 169.3 504.1 169.6 503.1 169.8 502.2 170.1 498.1 170.3 501.3 170.6 502.7 170.8 500.1 171.1 503.4 171.3 500.1 171.6 498.3 171.8 500.2 172.1 499.5 172.3 500.0 172.6 498.3 172.8 500.0 173.1 497.3 173.3 498.0 173.6 495.9 173.8 496.2 174.1 497.2 174.3 495.9 174.6 495.8 174.8 495.9 175.1 496.2 175.3 496.5 175.6 496.3 175.8 496.3 176.1 495.0 176.3 493.8 176.6 492.3 176.8 493.5 177.1 492.7 177.3 491.2 177.6 495.0 177.8 490.6 178.1 492.9 178.3 492.9 178.6 491.7 178.8 494.7 179.1 491.4 179.3 490.2 179.6 492.8 179.8 489.6 180.1 488.6 180.3 488.8 180.6 489.0 180.8 489.4 181.1 489.5 181.3 487.2 181.6 488.9 181.8 490.7 182.1 487.2 182.3 487.6 182.6 488.2 182.8 488.4 183.1 486.2 183.3 485.6 183.6 485.2 183.8 487.1 184.1 486.5 184.3 483.1 184.6 482.8 184.8 483.3 185.1 482.7 185.3 484.3 185.6 483.7 185.8 485.0 186.1 483.5 186.3 482.5 186.6 483.1 186.8 480.8 187.1 480.0 187.3 481.0 187.6 481.4 187.8 478.8 188.1 480.7 188.3 480.4 188.6 478.8 188.8 479.1 189.1 478.5 189.3 478.5 189.6 478.9 189.8 477.3 190.1 478.7 190.3 478.3 190.6 478.2 190.8 475.6 191.1 475.6 191.3 477.7 191.6 476.5 191.8 476.4 192.1 476.4 192.3 476.0 192.6 477.0 192.8 476.9 193.1 477.3 193.3 478.6 193.6 477.7 193.8 480.2 194.1 477.7 194.3 482.6 194.6 479.7 194.8 482.1 195.1 483.2 195.3 483.4 195.6 485.7 195.8 486.6 196.1 486.8 196.3 491.3 196.6 494.3 196.8 494.3 197.1 494.5 197.3 497.3 197.6 499.6 197.8 500.0 198.1 500.5 198.3 497.6 198.6 494.2 198.8 487.5 199.1 488.0 199.3 482.0 199.6 479.5 199.8 475.4 200.1 472.3 200.3 469.2 200.6 467.0 200.8 464.1 201.1 461.1 201.3 459.8 201.6 457.3 201.8 456.4 202.1 455.0 202.3 454.7 202.6 453.4 202.8 452.9 203.1 452.2 203.3 450.4 203.6 450.4 203.8 448.8 204.1 447.5 204.3 445.9 204.6 444.8 204.8 443.1 205.1 442.0 205.3 440.5 205.6 439.3 205.8 437.4 206.1 436.0 206.3 434.4 206.6 432.9 206.8 430.9 207.1 429.4 207.3 427.4 207.6 425.7 207.8 423.9 208.1 422.0 208.3 419.8 208.6 418.2 208.8 416.9 209.1 415.5 209.3 414.4 209.6 413.1 209.8 412.5 210.1 411.9 210.3 411.3 210.6 411.4 210.8 412.3 211.1 413.1 211.3 414.2 211.6 418.0 211.8 424.1 212.1 430.9 212.3 437.3 212.6 445.7 212.8 454.4 213.1 465.1 213.3 479.9 213.6 497.4 213.8 515.0 218.3 515.0 218.6 478.3 218.8 447.3 219.1 433.6 219.3 428.3 219.6 424.3 219.8 421.0 220.1 418.4 220.3 417.1 220.6 415.7 220.8 414.6 221.1 413.6 221.3 412.5 221.6 412.7 221.8 412.1 222.1 412.5 222.3 413.4 222.6 414.3 222.8 415.2 223.1 416.2 223.3 417.5 223.6 419.1 223.8 420.6 224.1 422.2 224.3 424.1 224.6 425.8 224.8 427.5 225.1 428.9 225.3 430.6 225.6 431.8 225.8 433.4 226.1 434.6 226.3 435.9 226.6 437.2 226.8 438.7 227.1 440.2 227.3 441.6 227.6 442.7 227.8 443.9 228.1 445.2 228.3 446.7 228.6 447.7 228.8 448.7 229.1 450.1 229.3 450.6 229.6 452.0 229.8 452.9 230.1 453.9 230.3 454.5 230.6 456.3 230.8 457.7 231.1 457.5 231.3 459.3 231.6 460.8 231.8 463.1 232.1 463.1 232.3 464.4 232.6 466.8 232.8 470.3 233.1 471.1 233.3 473.6 233.6 477.3 233.8 476.0 234.1 478.3 234.3 484.5 234.6 488.0 234.8 488.7 235.1 494.0 235.3 494.9 235.6 495.1 235.8 492.5 236.1 491.1 236.3 488.3 236.6 487.1 236.8 484.8 237.1 485.6 237.3 483.5 237.6 480.2 237.8 481.4 238.1 481.5 238.3 479.5 238.6 479.5 238.8 477.8 239.1 477.9 239.3 475.9 239.6 477.2 239.8 475.0 240.1 477.4 240.3 474.8 240.6 474.3 240.8 476.7 241.1 476.1 241.3 476.4 241.6 476.8 241.8 476.4 242.1 475.7 242.3 476.8 242.6 477.0 242.8 477.2 243.1 478.7 243.3 476.3 243.6 477.2 243.8 477.7 244.1 476.9 244.3 476.3 244.6 477.1 244.8 478.8 245.1 477.6 245.3 478.6 245.6 477.5 245.8 478.8 246.1 477.9 246.3 477.9 246.6 479.0 246.8 479.1 247.1 480.7 247.3 477.8 247.6 480.1 247.8 481.4 248.1 481.3 248.3 479.8 248.6 479.6 248.8 480.0 249.1 481.0 249.3 481.1 249.6 481.5 249.8 481.9 250.1 480.4 250.3 480.5 250.6 480.6 250.8 480.7 251.1 482.2 251.3 482.8 251.6 485.5 251.8 483.6 252.1 483.3 252.3 485.1 252.6 483.0 252.8 484.5 253.1 485.5 253.3 485.6 253.6 485.5 253.8 485.0 254.1 484.3 254.3 485.9 254.6 485.7 254.8 487.5 255.1 486.9 255.3 488.1 255.6 485.9 255.8 489.3 256.1 487.5 256.3 487.0 256.6 487.5 256.8 488.8 257.1 491.4 257.3 491.2 257.6 489.2 257.8 491.1 258.1 491.2 258.3 489.7 258.6 490.7 258.8 489.7 259.1 491.5 259.3 489.5 259.6 492.2 259.8 492.3 260.1 492.8 260.3 493.0 260.6 496.0 260.8 494.2 261.1 495.3 261.3 496.3 261.6 496.8 261.8 496.7 262.1 495.3 262.3 494.8 262.6 495.5 262.8 496.2 263.1 497.2 263.3 497.3 263.6 499.3 263.8 497.8 264.1 500.8 264.3 500.0 264.6 498.0 264.8 500.3 265.1 495.0 265.3 501.5 265.6 500.4 265.8 500.6 266.1 497.7 266.3 504.3 266.6 500.3 266.8 500.7 267.1 502.9 267.3 501.1 267.6 500.3 267.8 502.8 268.1 500.4 268.3 503.3 268.6 502.6 268.8 504.3 269.1 500.9 269.3 504.9 269.6 503.6 269.8 506.4 270.1 502.4 270.3 506.6 270.6 504.9 270.8 505.2 271.1 502.9 271.3 505.2 271.6 505.5 271.8 503.2 272.1 502.9 272.3 503.6 272.6 507.4 272.8 505.5 273.1 506.9 273.3 506.0 273.6 505.8 273.8 506.1 274.1 505.2 274.3 508.1 274.6 506.5 274.8 506.7 275.1 504.1 275.3 507.1 275.6 505.6 275.8 506.0 276.1 508.7 276.3 507.0 276.6 507.2 276.8 507.3 277.1 507.4 277.3 507.5 277.6 507.6 277.8 507.7 278.1 507.8 278.3 507.8 278.6 507.9 278.8 508.0 279.0 508.0 279.3 508.0 279.3 508.0 279.4 508.0 279.4 515.0 279.7 515.0 279.7 508.0 279.8 508.0 279.8 508.0 280.0 508.0 280.0 515.0 280.5 515.0 280.5 508.0 280.7 508.0 280.7 508.0 281.0 508.0 281.0 515.0 281.4 515.0 281.4 503.2 281.6 503.2 281.6 515.0 281.8 515.0 281.8 508.0 282.0 508.0 282.0 500.3 282.7 500.3 282.7 515.0 283.0 515.0 283.0 508.0 283.3 508.0 283.3 508.0 283.7 508.0 283.7 515.0 283.9 515.0 283.9 515.0 284.1 515.0 284.1 515.0 284.2 515.0 284.2 508.0 284.4 508.0 284.4 508.0 284.7 508.0 284.7 515.0 285.0 515.0 285.0 508.0 285.3 508.0 285.3 515.0 285.4 515.0 285.4 503.2 286.4 503.2 286.4 515.0 286.7 515.0 286.7 515.0 286.9 515.0 286.9 515.0 287.2 515.0 287.2 500.3 287.6 500.3 287.6 515.0 287.8 515.0 287.8 508.0 287.9 508.0 287.9 508.0 289.7 508.0 289.7 508.0 289.9 508.0 289.9 515.0 290.1 515.0 290.1 508.0 290.4 508.0 290.4 508.0 290.7 508.0 290.7 508.0 291.1 508.0 291.1 515.0 291.5 515.0 291.5 515.0 291.7 515.0 291.7 508.0 292.0 508.0 292.0 515.0 292.3 515.0 292.3 508.0 292.5 508.0 292.5 508.0 294.3 508.0 294.3 508.0 294.6 508.0 294.6 508.0 294.9 508.0 294.9 508.0 295.2 508.0 295.2 508.0 295.6 508.0 295.6 508.0 296.0 508.0 296.0 515.0 296.1 515.0 296.1 508.0 296.5 508.0 296.5 500.3 297.1 500.3 297.1 508.0 297.5 508.0 297.5 508.0 297.8 508.0 297.8 515.0 298.0 515.0 298.0 515.0 298.4 515.0 298.4 508.0 298.7 508.0 298.7 508.0 298.9 508.0 298.9 508.0 299.1 508.0 299.1 515.0 299.4 515.0 299.4 515.0 299.7 515.0 299.7 508.0 300.0 508.0 300.0 515.0 300.3 515.0 300.3 508.0 300.4 508.0 300.4 508.0 300.8 508.0 300.8 515.0 301.0 515.0 301.0 515.0 301.4 515.0 301.4 515.0 301.8 515.0 301.8 495.2 302.0 495.2 302.0 515.0 302.2 515.0 302.2 508.0 302.4 508.0 302.4 508.0 302.7 508.0 302.7 515.0 302.8 515.0 302.8 515.0 303.0 515.0 303.0 515.0 303.4 515.0 303.4 515.0 303.8 515.0 303.8 508.0 304.1 508.0 304.1 508.0 304.5 508.0 304.5 515.0 304.8 515.0 304.8 508.0 305.1 508.0 305.1 515.0 305.3 515.0 305.3 515.0 305.6 515.0 305.6 508.0 305.9 508.0 305.9 508.0 308.8 508.0 308.8 508.0 309.1 508.0 309.1 515.0 309.4 515.0 309.4 515.0 309.8 515.0 309.8 508.0 309.9 508.0 309.9 503.2 310.8 503.2 310.8 515.0 311.1 515.0 311.1 508.0 311.2 508.0 311.2 508.0 311.6 508.0 311.6 515.0 312.0 515.0 312.0 515.0 312.5 515.0 312.5 515.0 312.7 515.0 312.7 515.0 313.0 515.0 313.0 515.0 313.4 515.0 313.4 508.0 313.6 508.0 313.6 515.0 313.9 515.0 313.9 515.0 314.2 515.0 314.2 515.0 314.5 515.0 314.5 515.0 314.8 515.0 314.8 515.0 315.1 515.0 315.1 508.0 317.4 508.0 317.4 515.0 317.7 515.0 317.7 508.0 318.0 508.0 318.0 508.0 318.2 508.0 318.2 515.0 318.5 515.0 318.5 508.0 318.8 508.0 318.8 508.0 319.1 508.0 319.1 508.0 319.2 508.0 319.2 515.0 319.5 515.0 319.5 508.0 319.6 508.0 319.6 503.2 320.1 503.2 320.1 500.3 320.7 500.3 320.7 515.0 321.2 515.0 321.2 515.0 321.4 515.0 321.4 515.0 321.7 515.0 321.7 508.0 322.1 508.0 322.1 515.0 322.5 515.0 322.5 508.0 322.7 508.0 322.7 508.0 323.0 508.0 323.0 508.0 323.3 508.0 323.3 515.0 323.5 515.0 323.5 508.0 323.9 508.0 323.9 515.0 324.2 515.0 324.2 503.2 325.0 503.2 325.0 508.0 325.3 508.0 325.3 515.0 325.7 515.0 325.7 515.0 325.9 515.0 325.9 503.2 326.8 503.2 326.8 515.0 327.2 515.0 327.2 508.0 327.4 508.0 327.4 515.0 327.7 515.0 327.7 515.0 328.0 515.0 328.0 503.2 328.5 503.2 328.5 515.0 328.8 515.0 328.8 515.0 329.0 515.0 329.0 515.0 329.4 515.0 329.4 508.0 329.7 508.0 329.7 515.0 329.9 515.0 329.9 515.0 330.3 515.0 330.3 508.0 330.6 508.0 330.6 515.0 330.9 515.0 330.9 515.0 331.1 515.0 331.1 515.0 331.4 515.0 331.4 508.0 331.6 508.0 331.6 515.0 331.9 515.0 331.9 508.0 332.2 508.0 332.2 515.0 332.5 515.0 332.5 508.0 332.7 508.0 332.7 515.0 332.9 515.0 332.9 508.0 333.1 508.0 333.1 515.0 333.5 515.0 333.5 495.7 333.7 495.7 333.7 515.0 333.9 515.0 333.9 515.0 334.1 515.0 334.1 515.0 334.5 515.0 334.5 508.0 334.6 508.0 334.6 515.0 335.0 515.0 335.0 515.0 335.2 515.0 335.2 500.3 335.6 500.3 335.6 508.0 336.0 508.0 336.0 508.0 336.1 508.0 336.1 508.0 336.3 508.0 336.3 508.0 336.5 508.0 336.5 508.0 336.8 508.0 336.8 515.0 337.3 515.0 337.3 508.0 337.4 508.0 337.4 508.0 337.8 508.0 337.8 515.0 338.0 515.0 338.0 503.2 338.4 503.2 338.4 515.0 338.5 515.0 338.5 508.0 338.7 508.0 338.7 500.3 338.9 500.3 338.9 515.0 339.1 515.0 339.2 505.0 339.4 504.6 339.7 505.1 339.9 506.4 340.2 505.6 340.4 504.4 340.7 505.4 340.9 506.1 341.2 505.1 341.4 507.1 341.7 505.0 341.9 502.8 342.2 503.1 342.4 504.0 342.7 503.8 342.9 504.9 343.2 504.5 343.4 506.3 343.7 505.0 343.9 505.8 344.2 502.6 344.4 503.0 344.7 504.5 344.9 503.5 345.2 504.2 345.4 503.6 345.7 502.3 345.9 505.4 346.2 504.5 346.4 500.6 346.7 501.8 346.9 502.6 347.2 503.3 347.4 502.1 347.7 500.2 347.9 503.0 348.2 501.3 348.4 503.0 348.7 501.5 348.9 502.2 349.2 501.7 349.4 501.4 349.7 499.2 349.9 501.0 350.2 499.6 350.4 497.3 350.7 498.1 350.9 497.9 351.2 498.6 351.4 498.6 351.7 496.0 351.9 498.0 352.2 496.7 352.4 495.2 352.7 497.2 352.9 494.9 353.2 494.1 353.4 496.1 353.7 496.0 353.9 493.7 354.2 495.5 354.4 495.1 354.7 492.9 354.9 495.5 355.2 492.8 355.4 492.7 355.7 489.4 355.9 492.5 356.2 490.8 356.4 491.6 356.7 488.9 356.9 491.8 357.2 491.8 357.4 491.9 357.7 486.3 357.9 489.9 358.2 489.3 358.4 485.4 358.7 487.6 358.9 488.0 359.2 489.3 359.4 486.7 359.7 487.5 359.9 487.0 360.2 487.2 360.4 486.1 360.7 487.2 360.9 487.0 361.2 484.4 361.4 486.6 361.7 484.5 361.9 484.7 362.2 485.9 362.4 484.6 362.7 484.8 362.9 484.8 363.2 484.4 363.4 483.0 363.7 482.4 363.9 483.7 364.2 483.6 364.4 483.0 364.7 482.3 364.9 483.0 365.2 482.0 365.4 480.5 365.7 481.9 365.9 481.9 366.2 481.9 366.4 480.2 366.7 480.2 366.9 481.0 367.2 480.1 367.4 480.3 367.7 481.0 367.9 480.4 368.2 481.5 368.4 480.0 368.7 481.1 368.9 480.4 369.2 481.6 369.4 479.3 369.7 479.0 369.9 480.1 370.2 478.4 370.4 478.3 370.7 478.8 370.9 478.8 371.2 477.1 371.4 478.4 371.7 477.8 371.9 478.0 372.2 478.0 372.4 477.6 372.7 478.6 372.9 478.1 373.2 477.4 373.4 477.6 373.7 478.4 373.9 478.1 374.2 478.5 374.4 477.4 374.7 477.7 374.9 479.4 375.2 477.9 375.4 479.7 375.7 479.3 375.9 478.7 376.2 478.3 376.4 480.5 376.7 479.9 376.9 480.4 377.2 480.1 377.4 483.4 377.7 483.0 377.9 483.6 378.2 484.6 378.4 485.2 378.7 486.1 378.9 487.8 379.2 488.5 379.4 487.6 379.7 493.0 379.9 494.3 380.2 495.4 380.4 498.8 380.7 496.3 380.9 495.3 381.2 501.5 381.4 500.3 381.7 496.6 381.9 496.3 382.2 494.8 382.4 489.7 382.7 488.7 382.9 487.7 383.2 484.8 383.4 481.3 383.7 479.6 383.9 476.6 384.2 475.5 384.4 473.3 384.7 471.1 384.9 469.1 385.2 469.5 385.4 466.7 385.7 464.5 385.9 463.2 386.2 462.6 386.4 461.1 386.7 458.7 386.9 457.7 387.2 456.7 387.4 455.1 387.7 453.7 387.9 452.8 388.2 452.2 388.4 451.2 388.7 450.2 388.9 449.6 389.2 449.0 389.4 448.1 389.7 447.0 389.9 446.3 390.2 444.7 390.4 443.6 390.7 442.0 390.9 440.6 391.2 438.3 391.4 435.5 391.7 432.9 391.9 430.4 392.2 427.4 392.4 424.7 392.7 422.4 392.9 420.1 393.2 418.6 393.4 416.8 393.7 415.3 393.9 413.9 394.2 412.9 394.4 412.2 394.7 411.9 394.9 412.3 395.2 412.4 395.4 413.3 395.7 414.6 395.9 416.2 396.2 420.3 396.4 426.4 396.7 433.7 396.9 445.8 397.2 462.6 397.4 481.1 397.7 501.9 397.8 515.0 402.5 515.0 402.8 491.1 403.0 468.2 403.2 450.7 403.5 438.0 403.8 431.6 404.0 426.7 404.2 422.5 404.5 419.0 404.8 416.5 405.0 414.6 405.2 413.4 405.5 412.6 405.8 412.0 406.0 411.6 406.2 411.8 406.5 412.0 406.8 412.5 407.0 413.2 407.2 414.3 407.5 414.7 407.8 416.4 408.0 417.5 408.2 419.3 408.5 421.0 408.8 422.8 409.0 424.7 409.2 426.2 409.5 427.8 409.8 429.6 410.0 431.2 410.2 433.2 410.5 434.8 410.8 436.6 411.0 438.4 411.2 440.1 411.5 442.2 411.8 443.6 412.0 445.9 412.2 447.9 412.5 449.7 412.8 451.7 413.0 454.3 413.2 456.0 413.5 457.5 413.8 460.0 414.0 463.5 414.2 464.8 414.5 468.7 414.8 471.4 415.0 472.9 415.2 476.2 415.5 477.8 415.8 481.7 416.0 485.4 416.2 491.3 416.5 493.3 416.8 499.0 417.0 502.9 417.2 506.5 417.5 507.4 417.8 507.8 418.0 502.5 418.2 499.3 418.5 496.1 418.8 492.6 419.0 490.2 419.2 488.4 419.5 488.7 419.8 485.6 420.0 484.0 420.2 481.6 420.5 481.8 420.8 481.0 421.0 480.5 421.2 479.6 421.5 480.3 421.8 481.2 422.0 479.0 422.2 477.7 422.5 480.6 422.8 480.6 423.0 479.7 423.2 479.6 423.5 482.8 423.8 479.7 424.0 479.0 424.2 479.9 424.5 480.9 424.8 479.9 425.0 480.3 425.2 481.1 425.5 480.5 425.8 481.1 426.0 481.1 426.2 480.2 426.5 481.5 426.8 480.4 427.0 482.6 427.2 480.9 427.5 481.8 427.8 480.3 428.0 481.8 428.2 481.2 428.5 484.2 428.8 482.6 429.0 483.5 429.2 481.3 429.5 481.9 429.8 483.2 430.0 482.2 430.2 485.0 430.5 483.5 430.8 484.3 431.0 484.7 431.2 484.4 431.5 485.7 431.8 484.4 432.0 485.7 432.2 486.9 432.5 486.1 432.8 486.3 433.0 486.1 433.2 486.8 433.5 487.8 433.8 487.1 434.0 485.7 434.2 488.2 434.5 488.2 434.8 489.3 435.0 489.1 435.2 491.3 435.5 488.3 435.8 489.0 436.0 491.4 436.2 489.7 436.5 491.8 436.8 491.8 437.0 489.9 437.2 493.8 437.5 495.4 437.8 494.5 438.0 493.1 438.2 496.8 438.5 495.0 438.8 497.0 439.0 498.4 439.2 497.3 439.5 496.6 439.8 499.3 440.0 499.9 440.2 499.1 440.5 499.6 440.8 502.2 441.0 501.3 441.2 501.1 441.5 501.2 441.8 502.7 442.0 502.8 442.2 502.7 442.5 501.1 442.8 502.8 443.0 502.6 443.2 503.8 443.3 503.8 443.5 503.8 444.2 503.8 444.2 515.0 444.6 515.0 444.6 507.5 444.7 507.5 444.7 515.0 444.9 515.0 444.9 515.0 445.2 515.0 445.2 515.0 445.6 515.0 445.6 507.5 445.8 507.5 445.8 515.0 446.1 515.0 446.1 515.0 446.4 515.0 446.4 507.5 446.6 507.5 446.6 507.5 447.0 507.5 447.0 515.0 447.3 515.0 447.3 515.0 447.6 515.0 447.6 515.0 447.8 515.0 447.8 515.0 448.2 515.0 448.2 507.5 448.5 507.5 448.5 515.0 448.9 515.0 448.9 500.3 449.3 500.3 449.3 507.5 449.4 507.5 449.4 503.8 450.0 503.8 450.0 507.5 450.2 507.5 450.2 507.5 450.5 507.5 450.5 507.5 450.7 507.5 450.7 515.0 451.1 515.0 451.1 515.0 451.4 515.0 451.4 507.5 451.7 507.5 451.7 507.5 454.0 507.5 454.0 507.5 454.4 507.5 454.4 503.8 455.2 503.8 455.2 507.5 455.3 507.5 455.3 503.8 455.8 503.8 455.8 503.8 456.6 503.8 456.6 503.8 456.8 503.8 456.8 507.5 457.1 507.5 457.1 515.0 457.3 515.0 457.3 503.8 457.8 503.8 457.8 507.5 458.0 507.5 458.0 515.0 458.1 515.0 458.1 515.0 458.5 515.0 458.5 507.5 458.6 507.5 458.6 515.0 458.8 515.0 458.8 515.0 459.0 515.0 459.0 515.0 459.3 515.0 459.3 515.0 459.6 515.0 459.6 515.0 459.9 515.0 459.9 515.0 460.1 515.0 460.1 515.0 460.4 515.0 460.4 515.0 460.6 515.0 460.6 515.0 461.0 515.0 461.0 515.0 461.4 515.0 461.4 503.8 462.0 503.8 462.0 507.5 462.2 507.5 462.2 503.8 462.8 503.8 462.8 507.5 463.1 507.5 463.1 515.0 463.3 515.0 463.3 515.0 463.7 515.0 463.7 507.5 464.1 507.5 464.1 515.0 464.5 515.0 464.5 515.0 464.6 515.0 464.6 503.8 465.6 503.8 465.6 515.0 466.0 515.0 466.0 515.0 466.2 515.0 466.2 500.3 466.8 500.3 466.8 507.5 467.2 507.5 467.2 515.0 467.4 515.0 467.4 503.8 467.8 503.8 467.8 515.0 468.1 515.0 468.1 507.5 468.4 507.5 468.4 503.8 468.8 503.8 468.8 515.0 469.2 515.0 469.2 507.5 469.4 507.5 469.4 503.8 470.3 503.8 470.3 507.5 470.5 507.5 470.5 507.5 470.8 507.5 470.8 507.5 471.0 507.5 471.0 515.0 471.4 515.0 471.4 503.8 472.3 503.8 472.3 515.0 472.8 515.0 472.8 515.0 473.0 515.0 473.0 503.8 473.3 503.8 473.3 515.0 473.7 515.0 473.7 507.5 473.9 507.5 473.9 515.0 474.2 515.0 474.2 507.5 474.4 507.5 474.4 507.5 474.7 507.5 474.7 515.0 475.1 515.0 475.1 515.0 475.4 515.0 475.4 515.0 475.8 515.0 475.8 507.5 476.0 507.5 476.0 503.8 476.8 503.8 476.8 503.8 477.3 503.8 477.3 491.0 477.5 491.0 477.5 507.5 477.7 507.5 477.7 515.0 477.8 515.0 477.8 515.0 478.2 515.0 478.2 507.5 478.3 507.5 478.3 515.0 478.6 515.0 478.6 507.5 478.8 507.5 478.8 507.5 479.0 507.5 479.0 507.5 479.2 507.5 479.2 515.0 479.5 515.0 479.5 503.8 480.3 503.8 480.3 515.0 480.6 515.0 480.6 515.0 481.0 515.0 481.0 515.0 481.2 515.0 481.2 503.8 481.6 503.8 481.6 515.0 481.8 515.0 481.8 515.0 482.1 515.0 482.1 515.0 482.4 515.0 482.4 507.5 482.6 507.5 482.6 515.0 482.9 515.0 482.9 515.0 483.1 515.0 483.1 503.8 483.5 503.8 483.5 515.0 483.7 515.0 483.7 507.5 484.1 507.5 484.1 515.0 484.5 515.0 484.5 507.5 484.7 507.5 484.7 503.8 485.2 503.8 485.2 515.0 485.4 515.0 485.4 515.0 485.8 515.0 485.8 515.0 486.0 515.0 486.0 503.8 486.4 503.8 486.4 507.5 486.7 507.5 486.7 507.5 487.0 507.5 487.0 515.0 487.4 515.0 487.4 507.5 487.5 507.5 487.5 507.5 487.8 507.5 487.8 507.5 487.9 507.5 487.9 507.5 488.2 507.5 488.2 515.0 488.6 515.0 488.6 515.0 489.0 515.0 489.0 507.5 489.3 507.5 489.3 515.0 489.5 515.0 489.5 515.0 489.6 515.0 489.6 515.0 489.8 515.0 489.8 507.5 490.2 507.5 490.2 515.0 490.6 515.0 490.6 507.5 492.8 507.5 492.8 500.3 493.4 500.3 493.4 507.5 493.8 507.5 493.8 507.5 493.9 507.5 493.9 507.5 494.3 507.5 494.3 500.3 494.8 500.3 494.8 507.5 495.1 507.5 495.1 515.0 495.5 515.0 495.5 515.0 495.9 515.0 495.9 515.0 496.3 515.0 496.3 507.5 496.5 507.5 496.5 515.0 496.8 515.0 496.8 503.8 497.4 503.8 497.4 515.0 497.7 515.0 497.7 515.0 498.0 515.0 498.0 507.5 498.3 507.5 498.3 515.0 498.7 515.0 498.7 515.0 499.0 515.0 499.0 507.5 499.1 507.5 499.1 503.8 499.9 503.8 499.9 507.5 500.1 507.5 500.1 507.5 500.5 507.5 500.5 507.5 500.9 507.5 500.9 515.0 501.3 515.0 501.3 515.0 501.5 515.0 501.5 507.5 501.7 507.5 501.7 507.5 502.0 507.5 502.0 515.0 502.4 515.0 502.4 507.5 502.6 507.5 502.6 515.0 502.8 515.0 502.8 515.0 503.0 515.0 503.0 515.0 503.2 515.0 503.2 507.5 503.3 507.5 503.3 495.5 503.5 495.5 503.5 507.5 503.8 507.5 503.8 515.0 504.2 515.0 504.2 515.0 504.4 515.0 504.4 515.0 504.8 515.0 504.8 515.0 505.2 515.0 505.2 497.4 505.4 497.4 505.4 515.0 505.7 515.0 505.7 507.5 506.0 507.5 506.0 507.5 506.3 507.5 506.3 507.5 506.5 507.5 506.5 503.8 506.7 503.8 506.7 507.5 507.1 507.5 507.1 515.0 507.3 515.0 507.3 515.0 507.6 515.0 507.6 507.5 507.9 507.5 507.9 515.0 508.2 515.0 508.2 503.8 508.6 503.8 508.6 515.0 508.8 515.0 508.8 515.0 509.1 515.0 509.1 515.0 509.5 515.0 509.5 515.0 509.9 515.0 509.9 515.0 510.0 515.0 510.0 507.5 510.2 507.5 510.2 507.5 510.6 507.5 510.6 515.0 510.9 515.0 510.9 515.0 511.4 515.0 511.4 500.3 511.9 500.3 511.9 515.0 512.1 515.0 512.1 507.5 512.4 507.5 512.4 503.8 512.7 503.8 512.7 515.0 513.2 515.0 513.2 503.8 513.4 503.8 513.4 515.0 513.7 515.0 513.7 503.8 514.7 503.8 514.7 515.0 515.0 515.0 515.0 507.5 515.3 507.5 515.3 515.0 515.4 515.0 515.4 507.5 515.7 507.5 515.7 507.5 516.0 507.5 516.0 515.0 516.3 515.0 516.3 515.0 516.6 515.0 516.6 515.0 516.9 515.0 516.9 507.5 517.3 507.5 517.3 507.5 517.6 507.5 517.6 515.0 517.8 515.0 517.8 503.8 518.5 503.8 518.5 515.0 518.8 515.0 518.8 500.3 519.1 500.3 519.1 515.0 519.5 515.0 519.5 507.5 519.9 507.5 519.9 500.3 520.3 500.3 520.3 515.0 520.6 515.0 520.6 515.0 520.9 515.0 520.9 507.5 521.1 507.5 521.1 515.0 521.3 515.0 521.3 503.8 522.0 503.8 522.0 515.0 522.4 515.0 522.4 515.0 522.6 515.0 522.6 515.0 523.0 515.0 523.0 507.5 523.4 507.5 523.4 496.4 523.6 496.4 523.6 515.0 523.9 515.0 523.9 515.0 524.1 515.0 524.1 515.0 524.3 515.0 524.3 507.5 527.7 507.5 527.7 515.0 527.9 515.0 527.9 507.5 528.2 507.5 528.2 492.4 528.4 492.4 528.4 515.0 528.6 515.0 528.6 515.0 528.8 515.0 528.8 515.0 529.2 515.0 529.2 507.5 529.3 507.5 529.3 515.0 529.6 515.0 529.6 515.0 530.0 515.0 530.0 515.0 530.3 515.0 530.3 494.1 530.5 494.1 530.5 515.0 530.9 515.0 530.9 515.0 531.2 515.0 531.2 507.5 533.1 507.5 533.1 515.0 533.4 515.0 533.4 503.8 534.2 503.8 534.2 515.0 534.4 515.0 534.4 515.0 534.6 515.0 534.6 503.8 535.1 503.8 535.1 515.0 535.6 515.0 535.6 515.0 536.0 515.0 536.0 515.0 536.2 515.0 536.2 515.0 536.5 515.0 536.5 515.0 536.7 515.0 536.7 515.0 537.0 515.0 537.0 515.0 537.2 515.0 537.2 503.8 538.0 503.8 538.0 515.0 538.3 515.0 538.3 507.5 538.4 507.5 538.4 515.0 538.7 515.0 538.6 501.4 538.9 501.9 539.1 502.1 539.4 500.5 539.6 499.6 539.9 499.5 540.1 501.5 540.4 499.9 540.6 497.2 540.9 498.0 541.1 497.0 541.4 496.9 541.6 494.9 541.9 496.6 542.1 494.6 542.4 495.2 542.6 497.3 542.9 496.3 543.1 493.8 543.4 493.3 543.6 493.1 543.9 491.6 544.1 492.3 544.4 492.8 544.6 491.6 544.9 493.2 545.1 492.0 545.4 491.2 545.6 493.3 545.9 491.8 546.1 490.8 546.4 492.4 546.6 491.5 546.9 489.1 547.1 489.8 547.4 488.7 547.6 487.4 547.9 490.5 548.1 489.8 548.4 486.7 548.6 488.1 548.9 485.7 549.1 488.1 549.4 486.6 549.6 486.1 549.9 487.2 550.1 485.7 550.4 485.1 550.6 485.8 550.9 484.3 551.1 485.1 551.4 483.9 551.6 484.3 551.9 483.8 552.1 483.5 552.4 481.6 552.6 483.8 552.9 481.7 553.1 483.0 553.4 480.6 553.6 480.6 553.9 480.3 554.1 481.2 554.4 479.6 554.6 480.0 554.9 478.1 555.1 478.8 555.4 479.2 555.6 478.7 555.9 477.0 556.1 478.8 556.4 477.4 556.6 479.7 556.9 477.8 557.1 479.7 557.4 478.3 557.6 478.1 557.9 477.3 558.1 477.6 558.4 478.2 558.6 476.4 558.9 479.0 559.1 477.6 559.4 478.7 559.6 477.1 559.9 480.3 560.1 481.1 560.4 481.3 560.6 482.0 560.9 482.1 561.1 483.4 561.4 485.2 561.6 484.5 561.9 487.1 562.1 489.8 562.4 491.6 562.6 495.3 562.9 498.6 563.1 500.7 563.4 507.3 563.6 505.4 563.9 507.2 564.1 507.2 564.4 508.1 564.6 504.1 564.9 496.2 565.1 494.5 565.4 490.7 565.6 486.1 565.9 480.9 566.1 479.3 566.4 475.9 566.6 474.0 566.9 472.7 567.1 471.2 567.4 470.3 567.6 467.9 567.9 466.7 568.1 463.9 568.4 462.5 568.6 461.3 568.9 460.8 569.1 458.0 569.4 456.6 569.6 455.8 569.9 454.9 570.1 452.8 570.4 452.0 570.6 450.5 570.9 449.9 571.1 448.5 571.4 447.1 571.6 445.7 571.9 444.3 572.1 442.9 572.4 441.2 572.6 439.5 572.9 437.5 573.1 435.6 573.4 433.3 573.6 431.3 573.9 428.6 574.1 426.8 574.4 424.7 574.6 422.8 574.9 420.9 575.1 419.2 575.4 417.7 575.6 416.4 575.9 414.7 576.1 413.4 576.4 412.3 576.6 411.8 576.9 411.6 577.1 411.6 577.4 412.1 577.6 413.0 577.9 413.7 578.1 414.3 578.4 415.5 578.6 417.6 578.9 419.7 579.1 422.5 579.4 426.7 579.6 434.2 579.9 444.9 580.1 457.8 580.4 474.0 580.6 490.7 580.9 510.1 580.9 514.0 584.0 514.0 584.2 497.0 584.5 479.8 584.8 464.7 585.0 451.5 585.2 441.0 585.5 433.1 585.8 427.9 586.0 425.0 586.2 422.1 586.5 419.8 586.8 418.1 587.0 417.0 587.2 416.2 587.5 415.3 587.8 414.8 588.0 414.5 588.2 414.6 588.5 414.8 588.8 415.4 589.0 416.1 589.2 417.1 589.5 418.1 589.8 419.4 590.0 421.1 590.2 423.3 590.5 425.6 590.8 428.0 591.0 430.0 591.2 431.6 591.5 432.9 591.8 434.5 592.0 435.8 592.2 437.1 592.5 438.4 592.8 439.4 593.0 440.5 593.2 441.7 593.5 442.5 593.8 443.5 594.0 444.4 594.2 445.2 594.5 445.8 594.8 446.5 595.0 447.1 595.2 447.4 595.5 447.9 595.8 448.6 596.0 449.1 596.2 449.7 596.5 450.6 596.8 451.9 597.0 452.8 597.2 454.5 597.5 456.2 597.8 457.7 598.0 460.0 598.2 462.1 598.5 464.4 598.8 466.7 599.0 468.8 M591.2 431.4L591.3 453" fill="none" stroke="#000" stroke-width="1.1" stroke-linejoin="bevel"/></svg><text x="355.1" y="555.7" text-anchor="middle" textLength="458.4" lengthAdjust="spacing">Equatorial pitch angle of particle with 90 degree pitch angle in OPQ</text><g shape-rendering="crispEdges"><rect x="111.5" y="565.5" width="488" height="107" fill="none" stroke="#000"/><path d="M112.5 673v10M132.5 673v5M152.5 673v5M172.5 673v5M193.5 673v5M213.5 673v5M233.5 673v10M254.5 673v5M274.5 673v5M294.5 673v5M314.5 673v5M335.5 673v5M355.5 673v10M375.5 673v5M396.5 673v5M416.5 673v5M436.5 673v5M456.5 673v5M477.5 673v10M497.5 673v5M517.5 673v5M538.5 673v5M558.5 673v5M578.5 673v5M599.5 673v10" stroke="#000"/><path d="M101 670.5h10M101 658.5h10M101 645.5h10M101 633.5h10M101 620.5h10M101 608.5h10M101 595.5h10M101 583.5h10M101 570.5h10M106 668.5h5M106 665.5h5M106 663.5h5M106 660.5h5M106 655.5h5M106 653.5h5M106 650.5h5M106 648.5h5M106 643.5h5M106 640.5h5M106 638.5h5M106 635.5h5M106 630.5h5M106 628.5h5M106 625.5h5M106 623.5h5M106 618.5h5M106 615.5h5M106 613.5h5M106 610.5h5M106 605.5h5M106 603.5h5M106 600.5h5M106 598.5h5M106 593.5h5M106 590.5h5M106 588.5h5M106 585.5h5M106 580.5h5M106 578.5h5M106 575.5h5M106 573.5h5M106 568.5h5M106 565.5h5" stroke="#000"/></g><text x="74.6 83.6 92.6" y="675.3">50.</text><text x="74.6 83.6 92.6" y="662.8">55.</text><text x="74.6 83.6 92.6" y="650.3">60.</text><text x="74.6 83.6 92.6" y="637.8">65.</text><text x="74.6 83.6 92.6" y="625.3">70.</text><text x="74.6 83.6 92.6" y="612.8">75.</text><text x="74.6 83.6 92.6" y="600.3">80.</text><text x="74.6 83.6 92.6" y="587.8">85.</text><text x="74.6 83.6 92.6" y="575.3">90.</text><text transform="translate(56.2 619.2) rotate(-90)" text-anchor="middle" textLength="69.7" lengthAdjust="spacing">&#945;<tspan dy="7">Eq</tspan><tspan dy="-7"> (deg)</tspan></text><svg x="111" y="565" width="489" height="108" viewBox="111 565 489 108" overflow="hidden"><path d="M116.0 674.0 116.2 673.9 116.5 673.7 116.8 673.6 117.0 673.5 117.2 673.4 117.5 673.2 117.8 673.1 118.0 673.0 118.2 672.9 118.5 672.8 118.8 672.6 119.0 672.5 119.2 672.4 119.5 672.3 119.8 672.2 120.0 672.1 120.2 671.9 120.5 671.8 120.8 671.7 121.0 671.6 121.2 671.5 121.5 671.4 121.8 671.3 122.0 671.2 122.2 671.0 122.5 670.9 122.8 670.8 123.0 670.7 123.2 670.6 123.5 670.5 123.8 670.4 124.0 670.3 124.2 670.2 124.5 670.1 124.8 670.0 125.0 669.9 125.2 669.8 125.5 669.6 125.8 669.5 126.0 669.4 126.2 669.3 126.5 669.2 126.8 669.1 127.0 669.0 127.2 668.9 127.5 668.8 127.8 668.7 128.0 668.6 128.2 668.5 128.5 668.4 128.8 668.3 129.0 668.2 129.2 668.1 129.5 668.0 129.8 667.8 130.0 667.7 130.2 667.6 130.5 667.5 130.8 667.4 131.0 667.3 131.2 667.2 131.5 667.1 131.8 667.0 132.0 666.9 132.2 666.8 132.5 666.7 132.8 666.5 133.0 666.4 133.2 666.3 133.5 666.2 133.8 666.1 134.0 666.0 134.2 665.9 134.5 665.8 134.8 665.6 135.0 665.5 135.2 665.4 135.5 665.3 135.8 665.2 136.0 665.1 136.2 664.9 136.5 664.8 136.8 664.7 137.0 664.6 137.2 664.5 137.5 664.3 137.8 664.2 138.0 664.1 138.2 664.0 138.5 663.9 138.8 663.8 139.0 663.6 139.2 663.5 139.5 663.4 139.8 663.3 140.0 663.1 140.2 663.0 140.5 662.9 140.8 662.8 141.0 662.7 141.2 662.5 141.5 662.4 141.8 662.3 142.0 662.2 142.2 662.0 142.5 661.9 142.8 661.8 143.0 661.7 143.2 661.6 143.5 661.4 143.8 661.3 144.0 661.2 144.2 661.1 144.5 660.9 144.8 660.8 145.0 660.7 145.2 660.6 145.5 660.4 145.8 660.3 146.0 660.2 146.2 660.1 146.5 659.9 146.8 659.8 147.0 659.7 147.2 659.6 147.5 659.5 147.8 659.3 148.0 659.2 148.2 659.1 148.5 659.0 148.8 658.8 149.0 658.7 149.2 658.6 149.5 658.5 149.8 658.4 150.0 658.2 150.2 658.1 150.5 658.0 150.8 657.9 151.0 657.8 151.2 657.6 151.5 657.5 151.8 657.4 152.0 657.3 152.2 657.2 152.5 657.0 152.8 656.9 153.0 656.8 153.2 656.7 153.5 656.6 153.8 656.4 154.0 656.3 154.2 656.2 154.5 656.1 154.8 656.0 155.0 655.9 155.2 655.8 155.5 655.6 155.8 655.5 156.0 655.4 156.2 655.3 156.5 655.2 156.8 655.1 157.0 654.9 157.2 654.8 157.5 654.7 157.8 654.6 158.0 654.5 158.2 654.4 158.5 654.3 158.8 654.2 159.0 654.0 159.2 653.9 159.5 653.8 159.8 653.7 160.0 653.6 160.2 653.5 160.5 653.4 160.8 653.2 161.0 653.1 161.2 653.0 161.5 652.9 161.8 652.8 162.0 652.7 162.2 652.6 162.5 652.5 162.8 652.3 163.0 652.2 163.2 652.1 163.5 652.0 163.8 651.9 164.0 651.8 164.2 651.6 164.5 651.5 164.8 651.4 165.0 651.3 165.2 651.2 165.5 651.1 165.8 651.0 166.0 650.8 166.2 650.7 166.5 650.6 166.8 650.5 167.0 650.4 167.2 650.2 167.5 650.1 167.8 650.0 168.0 649.9 168.2 649.8 168.5 649.6 168.8 649.5 169.0 649.4 169.2 649.3 169.5 649.2 169.8 649.0 170.0 648.9 170.2 648.8 170.5 648.7 170.8 648.5 171.0 648.4 171.2 648.3 171.5 648.2 171.8 648.0 172.0 647.9 172.2 647.8 172.5 647.7 172.8 647.5 173.0 647.4 173.2 647.3 173.5 647.1 173.8 647.0 174.0 646.9 174.2 646.7 174.5 646.6 174.8 646.5 175.0 646.3 175.2 646.2 175.5 646.1 175.8 645.9 176.0 645.8 176.2 645.6 176.5 645.5 176.8 645.4 177.0 645.2 177.2 645.1 177.5 644.9 177.8 644.8 178.0 644.6 178.2 644.5 178.5 644.3 178.8 644.2 179.0 644.0 179.2 643.9 179.5 643.7 179.8 643.6 180.0 643.4 180.2 643.3 180.5 643.1 180.8 642.9 181.0 642.8 181.2 642.6 181.5 642.5 181.8 642.3 182.0 642.1 182.2 642.0 182.5 641.8 182.8 641.6 183.0 641.4 183.2 641.3 183.5 641.1 183.8 640.9 184.0 640.7 184.2 640.6 184.5 640.4 184.8 640.2 185.0 640.0 185.2 639.8 185.5 639.7 185.8 639.5 186.0 639.3 186.2 639.1 186.5 638.9 186.8 638.7 187.0 638.5 187.2 638.3 187.5 638.1 187.8 637.9 188.0 637.7 188.2 637.5 188.5 637.3 188.8 637.1 189.0 636.8 189.2 636.6 189.5 636.4 189.8 636.2 190.0 636.0 190.2 635.7 190.5 635.5 190.8 635.3 191.0 635.0 191.2 634.8 191.5 634.6 191.8 634.3 192.0 634.1 192.2 633.8 192.5 633.6 192.8 633.3 193.0 633.1 193.2 632.8 193.5 632.6 193.8 632.3 194.0 632.0 194.2 631.8 194.5 631.5 194.8 631.2 195.0 630.9 195.2 630.6 195.5 630.3 195.8 630.1 196.0 629.8 196.2 629.4 196.5 629.1 196.8 628.8 197.0 628.5 197.2 628.2 197.5 627.8 197.8 627.5 198.0 627.1 198.2 626.8 198.5 626.4 198.8 626.0 199.0 625.6 199.2 625.2 199.5 624.8 199.8 624.4 200.0 623.9 200.2 623.5 200.5 623.0 200.8 622.6 201.0 622.1 201.2 621.6 201.5 621.1 201.8 620.6 202.0 620.0 202.2 619.5 202.5 618.9 202.8 618.3 203.0 617.8 203.2 617.1 203.5 616.5 203.8 615.9 204.0 615.2 204.2 614.5 204.5 613.8 204.8 613.1 205.0 612.3 205.2 611.5 205.5 610.7 205.8 609.9 206.0 609.0 206.2 608.2 206.5 607.3 206.8 606.3 207.0 605.4 207.2 604.4 207.5 603.3 207.8 602.3 208.0 601.2 208.2 600.1 208.5 598.9 208.8 597.7 209.0 596.5 209.2 595.2 209.5 593.9 209.8 592.5 210.0 591.1 210.2 589.6 210.5 588.1 210.8 586.5 211.0 584.9 211.2 583.2 211.5 581.5 211.8 579.8 212.0 578.2 212.2 576.6 212.5 575.2 212.8 573.9 213.0 572.8 213.2 572.0 213.5 571.4 213.8 571.1 214.0 571.1 214.2 571.4 214.5 571.9 214.8 572.6 215.0 573.6 215.2 574.8 215.5 576.1 215.8 577.6 216.0 579.3 216.2 581.1 216.5 583.0 216.8 585.0 217.0 587.0 217.2 589.0 217.5 590.9 217.8 592.8 218.0 594.6 218.2 596.2 218.5 597.7 218.8 599.0 219.0 600.1 219.2 601.2 219.5 602.1 219.8 602.9 220.0 603.6 220.2 604.2 220.5 604.8 220.8 605.3 221.0 605.8 221.2 606.3 221.5 606.7 221.8 607.1 222.0 607.5 222.2 607.9 222.5 608.2 222.8 608.5 223.0 608.8 223.2 609.1 223.5 609.3 223.8 609.5 224.0 609.7 224.2 609.8 224.5 609.9 224.8 610.0 225.0 610.0 225.2 610.1 225.5 610.0 225.8 610.0 226.0 609.9 226.2 609.8 226.5 609.7 226.8 609.5 227.0 609.4 227.2 609.2 227.5 608.9 227.8 608.7 228.0 608.4 228.2 608.1 228.5 607.8 228.8 607.4 229.0 607.1 229.2 606.7 229.5 606.3 229.8 605.9 230.0 605.5 230.2 605.0 230.5 604.6 230.8 604.1 231.0 603.7 231.2 603.2 231.5 602.7 231.8 602.3 232.0 601.8 232.2 601.3 232.5 600.9 232.8 600.4 233.0 600.0 233.2 599.5 233.5 599.1 233.8 598.7 234.0 598.3 234.2 597.9 234.5 597.5 234.8 597.1 235.0 596.7 235.2 596.4 235.5 596.0 235.8 595.7 236.0 595.3 236.2 595.0 236.5 594.6 236.8 594.3 237.0 594.0 237.2 593.7 237.5 593.3 237.8 593.0 238.0 592.7 238.2 592.4 238.5 592.1 238.8 591.8 239.0 591.5 239.2 591.2 239.5 590.9 239.8 590.7 240.0 590.4 240.2 590.1 240.5 589.8 240.8 589.5 241.0 589.3 241.2 589.0 241.5 588.7 241.8 588.4 242.0 588.2 242.2 587.9 242.5 587.6 242.8 587.4 243.0 587.1 243.2 586.9 243.5 586.6 243.8 586.4 244.0 586.1 244.2 585.8 244.5 585.6 244.8 585.3 245.0 585.1 245.2 584.9 245.5 584.6 245.8 584.4 246.0 584.1 246.2 583.9 246.5 583.7 246.8 583.4 247.0 583.2 247.2 583.0 247.5 582.7 247.8 582.5 248.0 582.3 248.2 582.0 248.5 581.8 248.8 581.6 249.0 581.4 249.2 581.2 249.5 581.0 249.8 580.8 250.0 580.5 250.2 580.3 250.5 580.1 250.8 579.9 251.0 579.7 251.2 579.5 251.5 579.4 251.8 579.2 252.0 579.0 252.2 578.8 252.5 578.6 252.8 578.4 253.0 578.3 253.2 578.1 253.5 577.9 253.8 577.7 254.0 577.6 254.2 577.4 254.5 577.2 254.8 577.1 255.0 576.9 255.2 576.8 255.5 576.6 255.8 576.5 256.0 576.3 256.2 576.2 256.5 576.0 256.8 575.9 257.0 575.7 257.2 575.6 257.5 575.4 257.8 575.3 258.0 575.2 258.2 575.0 258.5 574.9 258.8 574.8 259.0 574.6 259.2 574.5 259.5 574.4 259.8 574.3 260.0 574.1 260.2 574.0 260.5 573.9 260.8 573.8 261.0 573.7 261.2 573.5 261.5 573.4 261.8 573.3 262.0 573.2 262.2 573.1 262.5 573.0 262.8 572.9 263.0 572.8 263.2 572.7 263.5 572.6 263.8 572.5 264.0 572.4 264.2 572.3 264.5 572.2 264.8 572.1 265.0 572.0 265.2 571.9 265.5 571.8 265.8 571.7 266.0 571.7 266.2 571.6 266.5 571.5 266.8 571.4 267.0 571.4 267.2 571.3 267.5 571.2 267.8 571.1 268.0 571.1 268.2 571.0 268.5 570.9 268.8 570.9 269.0 570.8 269.2 570.8 269.5 570.7 269.8 570.7 270.0 570.6 270.2 570.6 270.5 570.5 270.8 570.5 271.0 570.4 271.2 570.4 271.5 570.3 L271.7 570.3 272.2 570.5 272.7 570.6 273.2 570.8 273.7 570.9 274.2 571.1 274.7 571.2 275.2 571.3 275.7 571.5 276.2 571.6 276.7 571.7 277.2 571.8 277.7 571.8 278.2 571.9 278.7 572.0 279.2 572.1 279.7 572.2 280.2 572.2 280.7 572.3 281.2 572.3 281.7 572.4 282.2 572.5 282.7 572.5 283.2 572.6 283.7 572.6 284.2 572.7 284.7 572.7 285.2 572.8 285.7 572.8 286.2 572.9 286.7 572.9 287.2 572.9 287.7 573.0 288.2 573.0 288.7 573.1 289.2 573.1 289.7 573.2 290.2 573.2 290.7 573.2 291.2 573.3 291.7 573.3 292.2 573.3 292.7 573.4 293.2 573.4 293.7 573.4 294.2 573.5 294.7 573.5 295.2 573.5 295.7 573.6 296.2 573.6 296.7 573.6 297.2 573.6 297.7 573.6 298.2 573.7 298.7 573.7 299.2 573.7 299.7 573.7 300.2 573.7 300.7 573.7 301.2 573.7 301.7 573.7 302.2 573.7 302.7 573.7 303.2 573.7 303.7 573.7 304.2 573.7 304.7 573.6 305.2 573.6 305.7 573.6 306.2 573.6 306.7 573.6 307.2 573.5 307.7 573.5 308.2 573.5 308.7 573.5 309.2 573.4 309.7 573.4 310.2 573.3 310.7 573.3 311.2 573.3 311.7 573.2 312.2 573.2 312.7 573.1 313.2 573.1 313.7 573.0 314.2 573.0 314.7 572.9 315.2 572.9 315.7 572.8 316.2 572.8 316.7 572.7 317.2 572.7 317.7 572.6 318.2 572.5 318.7 572.5 319.2 572.4 319.7 572.4 320.2 572.3 320.7 572.2 321.2 572.2 321.7 572.1 322.2 572.0 322.7 571.9 323.2 571.9 323.7 571.8 324.2 571.7 324.7 571.6 325.2 571.5 325.7 571.4 326.2 571.4 326.7 571.3 327.2 571.2 327.7 571.1 328.2 570.9 328.7 570.8 329.2 570.7 L329.3 570.7 329.6 570.8 329.8 570.8 330.1 570.9 330.3 570.9 330.6 571.0 330.8 571.0 331.1 571.1 331.3 571.2 331.6 571.2 331.8 571.3 332.1 571.4 332.3 571.4 332.6 571.5 332.8 571.6 333.1 571.6 333.3 571.7 333.6 571.8 333.8 571.8 334.1 571.9 334.3 572.0 334.6 572.1 334.8 572.1 335.1 572.2 335.3 572.3 335.6 572.4 335.8 572.4 336.1 572.5 336.3 572.6 336.6 572.7 336.8 572.8 337.1 572.8 337.3 572.9 337.6 573.0 337.8 573.1 338.1 573.2 338.3 573.3 338.6 573.4 338.8 573.5 339.1 573.5 339.3 573.6 339.6 573.7 339.8 573.8 340.1 573.9 340.3 574.0 340.6 574.1 340.8 574.2 341.1 574.3 341.3 574.4 341.6 574.5 341.8 574.6 342.1 574.7 342.3 574.8 342.6 574.9 342.8 575.0 343.1 575.1 343.3 575.2 343.6 575.3 343.8 575.4 344.1 575.5 344.3 575.6 344.6 575.8 344.8 575.9 345.1 576.0 345.3 576.1 345.6 576.2 345.8 576.3 346.1 576.4 346.3 576.5 346.6 576.6 346.8 576.8 347.1 576.9 347.3 577.0 347.6 577.1 347.8 577.2 348.1 577.3 348.3 577.4 348.6 577.5 348.8 577.6 349.1 577.8 349.3 577.9 349.6 578.0 349.8 578.1 350.1 578.2 350.3 578.3 350.6 578.4 350.8 578.5 351.1 578.6 351.3 578.7 351.6 578.8 351.8 578.9 352.1 579.0 352.3 579.1 352.6 579.2 352.8 579.3 353.1 579.4 353.3 579.5 353.6 579.6 353.8 579.7 354.1 579.8 354.3 579.9 354.6 580.0 354.8 580.1 355.1 580.2 355.3 580.3 355.6 580.4 355.8 580.5 356.1 580.6 356.3 580.7 356.6 580.8 356.8 580.9 357.1 581.0 357.3 581.1 357.6 581.2 357.8 581.3 358.1 581.4 358.3 581.6 358.6 581.7 358.8 581.8 359.1 582.0 359.3 582.1 359.6 582.2 359.8 582.4 360.1 582.5 360.3 582.7 360.6 582.8 360.8 583.0 361.1 583.2 361.3 583.3 361.6 583.5 361.8 583.7 362.1 583.9 362.3 584.1 362.6 584.3 362.8 584.5 363.1 584.7 363.3 584.9 363.6 585.1 363.8 585.3 364.1 585.5 364.3 585.7 364.6 585.9 364.8 586.1 365.1 586.4 365.3 586.6 365.6 586.8 365.8 587.0 366.1 587.3 366.3 587.5 366.6 587.7 366.8 588.0 367.1 588.2 367.3 588.4 367.6 588.7 367.8 588.9 368.1 589.2 368.3 589.4 368.6 589.7 368.8 589.9 369.1 590.2 369.3 590.4 369.6 590.7 369.8 590.9 370.1 591.2 370.3 591.4 370.6 591.7 370.8 592.0 371.1 592.2 371.3 592.5 371.6 592.8 371.8 593.0 372.1 593.3 372.3 593.6 372.6 593.9 372.8 594.1 373.1 594.4 373.3 594.7 373.6 595.0 373.8 595.3 374.1 595.6 374.3 595.9 374.6 596.2 374.8 596.5 375.1 596.8 375.3 597.1 375.6 597.4 375.8 597.7 376.1 598.1 376.3 598.4 376.6 598.7 376.8 599.1 377.1 599.4 377.3 599.8 377.6 600.1 377.8 600.5 378.1 600.9 378.3 601.2 378.6 601.6 378.8 602.0 379.1 602.4 379.3 602.8 379.6 603.2 379.8 603.6 380.1 604.1 380.3 604.5 380.6 604.9 380.8 605.4 381.1 605.8 381.3 606.2 381.6 606.7 381.8 607.1 382.1 607.6 382.3 608.1 382.6 608.5 382.8 609.0 383.1 609.5 383.3 610.0 383.6 610.5 383.8 610.9 384.1 611.4 384.3 611.9 384.6 612.4 384.8 612.9 385.1 613.4 385.3 613.9 385.6 614.4 385.8 614.9 386.1 615.4 386.3 615.8 386.6 616.3 386.8 616.7 387.1 617.2 387.3 617.6 387.6 617.9 387.8 618.3 388.1 618.7 388.3 619.0 388.6 619.2 388.8 619.5 389.1 619.7 389.3 619.9 389.6 620.0 389.8 620.1 390.1 620.1 390.3 620.1 390.6 620.0 390.8 619.8 391.1 619.5 391.3 619.0 391.6 618.4 391.8 617.6 392.1 616.5 392.3 615.3 392.6 613.8 392.8 612.0 393.1 610.1 393.3 607.9 393.6 605.6 393.8 603.2 394.1 600.7 394.3 598.1 394.6 595.6 394.8 593.0 395.1 590.5 395.3 588.1 395.6 585.8 395.8 583.7 396.1 581.9 396.3 580.4 396.6 579.2 396.8 578.4 397.1 578.1 397.3 578.2 397.6 578.9 397.8 579.9 398.1 581.3 398.3 582.9 398.6 584.6 398.8 586.4 399.1 588.1 399.3 589.7 399.6 591.1 399.8 592.2 400.1 592.8 400.3 593.0 400.6 592.6 400.8 591.7 401.1 590.4 401.3 588.7 401.6 586.7 401.8 584.5 402.1 582.1 402.3 579.6 402.6 577.1 402.8 574.9 403.1 573.2 403.3 572.1 403.6 571.9 403.8 572.5 404.1 573.9 404.3 575.9 404.6 578.3 404.8 581.1 405.1 583.9 405.3 586.8 405.6 589.5 405.8 592.2 406.1 594.6 406.3 597.0 406.6 599.3 406.8 601.4 407.1 603.5 407.3 605.5 407.6 607.4 407.8 609.2 408.1 611.0 408.3 612.7 408.6 614.4 408.8 616.0 409.1 617.5 409.3 619.1 409.6 620.5 409.8 622.0 410.1 623.4 410.3 624.7 410.6 626.0 410.8 627.3 411.1 628.5 411.3 629.8 411.6 630.9 411.8 632.1 412.1 633.2 412.3 634.3 412.6 635.3 412.8 636.4 413.1 637.3 413.3 638.3 413.6 639.2 413.8 640.1 414.1 641.0 414.3 641.8 414.6 642.5 414.8 643.3 415.1 644.0 415.3 644.7 415.6 645.3 415.8 646.0 416.1 646.5 416.3 647.1 416.6 647.6 416.8 648.1 417.1 648.6 417.3 649.1 417.6 649.5 417.8 650.0 418.1 650.4 418.3 650.7 418.6 651.1 418.8 651.5 419.1 651.8 419.3 652.1 419.6 652.4 419.8 652.8 420.1 653.1 420.3 653.3 420.6 653.6 420.8 653.9 421.1 654.2 421.3 654.4 421.6 654.7 421.8 655.0 422.1 655.2 422.3 655.5 422.6 655.7 422.8 656.0 423.1 656.2 423.3 656.5 423.6 656.7 423.8 657.0 424.1 657.2 424.3 657.5 424.6 657.7 424.8 657.9 425.1 658.2 425.3 658.4 425.6 658.7 425.8 658.9 426.1 659.1 426.3 659.4 426.6 659.6 426.8 659.8 427.1 660.1 427.3 660.3 427.6 660.6 427.8 660.8 428.1 661.1 428.3 661.3 428.6 661.5 428.8 661.8 429.1 662.1 429.3 662.3 429.6 662.6 429.8 662.8 430.1 663.1 430.3 663.3 430.6 663.6 430.8 663.8 431.1 664.1 431.3 664.4 431.6 664.6 431.8 664.9 432.1 665.1 432.3 665.4 432.6 665.6 432.8 665.9 433.1 666.1 433.3 666.4 433.6 666.6 433.8 666.8 434.1 667.1 434.3 667.3 434.6 667.5 434.8 667.8 435.1 668.0 435.3 668.2 435.6 668.4 435.8 668.6 436.1 668.8 436.3 669.1 436.6 669.3 436.8 669.5 437.1 669.7 437.3 669.8 437.6 670.0 437.8 670.2 438.1 670.4 438.3 670.6 438.6 670.8 438.8 671.0 439.1 671.2 439.3 671.3 439.6 671.5 439.8 671.7 440.1 671.9 440.3 672.0 440.6 672.2 440.8 672.4 441.1 672.6 441.3 672.7 441.6 672.9 441.8 673.1 442.1 673.2 442.3 673.4 442.6 673.6 442.8 673.8 443.1 673.9 443.3 674.1 443.6 674.3 443.8 674.4 444.1 674.6 444.3 674.8 444.6 675.0 444.8 675.1 445.1 675.3 445.3 675.5 445.6 675.7 445.8 675.9 M516.0 674.0 516.2 673.9 516.5 673.8 516.8 673.6 517.0 673.5 517.2 673.4 517.5 673.3 517.8 673.2 518.0 673.1 518.2 673.0 518.5 672.9 518.8 672.8 519.0 672.7 519.2 672.6 519.5 672.5 519.8 672.4 520.0 672.4 520.2 672.3 520.5 672.2 520.8 672.1 521.0 672.0 521.2 672.0 521.5 671.9 521.8 671.8 522.0 671.7 522.2 671.7 522.5 671.6 522.8 671.5 523.0 671.5 523.2 671.4 523.5 671.3 523.8 671.3 524.0 671.2 524.2 671.1 524.5 671.1 524.8 671.0 525.0 670.9 525.2 670.9 525.5 670.8 525.8 670.8 526.0 670.7 526.2 670.6 526.5 670.6 526.8 670.5 527.0 670.4 527.2 670.4 527.5 670.3 527.8 670.2 528.0 670.2 528.2 670.1 528.5 670.0 528.8 670.0 529.0 669.9 529.2 669.8 529.5 669.8 529.8 669.7 530.0 669.6 530.2 669.5 530.5 669.5 530.8 669.4 531.0 669.3 531.2 669.2 531.5 669.1 531.8 669.1 532.0 669.0 532.2 668.9 532.5 668.8 532.8 668.7 533.0 668.6 533.2 668.5 533.5 668.4 533.8 668.3 534.0 668.2 534.2 668.1 534.5 668.0 534.8 668.0 535.0 667.9 535.2 667.8 535.5 667.6 535.8 667.5 536.0 667.4 536.2 667.3 536.5 667.2 536.8 667.1 537.0 667.0 537.2 666.9 537.5 666.8 537.8 666.7 538.0 666.6 538.2 666.5 538.5 666.3 538.8 666.2 539.0 666.1 539.2 666.0 539.5 665.9 539.8 665.7 540.0 665.6 540.2 665.5 540.5 665.4 540.8 665.2 541.0 665.1 541.2 665.0 541.5 664.9 541.8 664.7 542.0 664.6 542.2 664.5 542.5 664.3 542.8 664.2 543.0 664.0 543.2 663.9 543.5 663.7 543.8 663.6 544.0 663.4 544.2 663.3 544.5 663.1 544.8 663.0 545.0 662.8 545.2 662.6 545.5 662.5 545.8 662.3 546.0 662.1 546.2 661.9 546.5 661.7 546.8 661.6 547.0 661.4 547.2 661.2 547.5 661.0 547.8 660.8 548.0 660.6 548.2 660.4 548.5 660.2 548.8 660.0 549.0 659.8 549.2 659.5 549.5 659.3 549.8 659.1 550.0 658.9 550.2 658.6 550.5 658.4 550.8 658.2 551.0 657.9 551.2 657.7 551.5 657.4 551.8 657.2 552.0 656.9 552.2 656.7 552.5 656.4 552.8 656.2 553.0 655.9 553.2 655.6 553.5 655.4 553.8 655.1 554.0 654.8 554.2 654.6 554.5 654.3 554.8 654.0 555.0 653.7 555.2 653.4 555.5 653.1 555.8 652.8 556.0 652.5 556.2 652.2 556.5 651.9 556.8 651.6 557.0 651.2 557.2 650.9 557.5 650.6 557.8 650.2 558.0 649.9 558.2 649.5 558.5 649.2 558.8 648.8 559.0 648.4 559.2 648.1 559.5 647.7 559.8 647.3 560.0 646.9 560.2 646.5 560.5 646.1 560.8 645.6 561.0 645.2 561.2 644.8 561.5 644.3 561.8 643.9 562.0 643.4 562.2 642.9 562.5 642.4 562.8 641.9 563.0 641.4 563.2 640.8 563.5 640.3 563.8 639.7 564.0 639.2 564.2 638.6 564.5 638.0 564.8 637.3 565.0 636.7 565.2 636.0 565.5 635.4 565.8 634.7 566.0 634.0 566.2 633.2 566.5 632.5 566.8 631.7 567.0 630.9 567.2 630.1 567.5 629.2 567.8 628.3 568.0 627.5 568.2 626.5 568.5 625.6 568.8 624.6 569.0 623.6 569.2 622.6 569.5 621.5 569.8 620.4 570.0 619.3 570.2 618.2 570.5 617.0 570.8 615.8 571.0 614.6 571.2 613.3 571.5 612.1 571.8 610.8 572.0 609.5 572.2 608.2 572.5 606.8 572.8 605.4 573.0 604.0 573.2 602.6 573.5 601.0 573.8 599.4 574.0 597.7 574.2 596.0 574.5 594.1 574.8 592.1 575.0 589.9 575.2 587.7 575.5 585.2 575.8 582.6 576.0 579.9 576.2 576.9 576.5 573.8 L576.6 572.5 576.8 574.7 577.0 576.9 577.2 579.2 577.4 581.5 577.6 583.8 577.8 586.1 578.0 588.4 578.2 590.8 578.4 593.2 578.6 595.6 578.8 598.1 579.0 600.5 579.2 603.0 579.4 605.5 579.6 608.0 579.8 610.6 580.0 613.1 580.2 615.7 580.4 618.2 580.6 620.7 580.8 623.2 581.0 625.8 581.2 628.3 581.4 630.9 581.6 633.6 581.8 636.3 582.0 639.2 582.2 642.1 582.4 645.5 582.6 649.2 582.8 653.0 583.0 656.9 583.2 660.7 583.4 664.3 583.6 667.4 583.8 670.0 584.0 672.0 584.2 673.5 584.4 674.7 584.6 675.7 M584.7 676.0 584.9 675.3 585.1 674.2 585.3 672.8 585.5 671.1 585.7 668.5 585.9 665.3 586.1 661.4 586.3 657.2 586.5 652.7 586.7 648.1 586.9 643.6 587.1 639.3 587.3 635.4 587.5 631.8 587.7 628.1 587.9 624.4 588.1 620.8 588.3 617.2 588.5 613.8 588.7 610.4 588.9 607.2 589.1 604.1 589.3 601.3 589.5 598.6 589.7 595.9 589.9 593.4 590.1 590.9 590.3 588.6 590.5 586.4 590.7 584.4 590.9 582.5 591.1 580.9 591.3 579.3 591.5 577.8 591.7 576.4 591.9 575.0 592.1 573.8 592.3 572.8 592.5 571.8 L592.6 571.4 592.9 572.2 593.1 573.0 593.4 573.8 593.6 574.6 593.9 575.5 594.1 576.3 594.4 577.2 594.6 578.1 594.9 579.0 595.1 579.9 595.4 580.9 595.6 581.8 595.9 582.9 596.1 583.9 596.4 585.0 596.6 586.0 596.9 587.1 597.1 588.2 597.4 589.3 597.6 590.4 597.9 591.5 598.1 592.6 598.4 593.7 598.6 594.7 598.9 595.7 599.1 596.7 599.4 597.6 599.6 598.6 599.9 599.5" fill="none" stroke="#000" stroke-width="1.3"/></svg><text x="354.8" y="712.8" text-anchor="middle" textLength="300.3" lengthAdjust="spacing">McIlwain L of locally mirroring particle in OPQ</text><g shape-rendering="crispEdges"><rect x="111.5" y="722.5" width="488" height="140" fill="none" stroke="#000"/><path d="M112.5 863v10M132.5 863v5M152.5 863v5M172.5 863v5M193.5 863v5M213.5 863v5M233.5 863v10M254.5 863v5M274.5 863v5M294.5 863v5M314.5 863v5M335.5 863v5M355.5 863v10M375.5 863v5M396.5 863v5M416.5 863v5M436.5 863v5M456.5 863v5M477.5 863v10M497.5 863v5M517.5 863v5M538.5 863v5M558.5 863v5M578.5 863v5M599.5 863v10" stroke="#000"/><path d="M101 855.5h10M101 831.5h10M101 806.5h10M101 782.5h10M101 758.5h10M101 734.5h10M106 860.5h5M106 857.5h5M106 852.5h5M106 850.5h5M106 848.5h5M106 845.5h5M106 843.5h5M106 840.5h5M106 838.5h5M106 836.5h5M106 833.5h5M106 828.5h5M106 826.5h5M106 823.5h5M106 821.5h5M106 819.5h5M106 816.5h5M106 814.5h5M106 811.5h5M106 809.5h5M106 804.5h5M106 802.5h5M106 799.5h5M106 797.5h5M106 794.5h5M106 792.5h5M106 789.5h5M106 787.5h5M106 785.5h5M106 780.5h5M106 777.5h5M106 775.5h5M106 772.5h5M106 770.5h5M106 768.5h5M106 765.5h5M106 763.5h5M106 760.5h5M106 756.5h5M106 753.5h5M106 751.5h5M106 748.5h5M106 746.5h5M106 743.5h5M106 741.5h5M106 739.5h5M106 736.5h5M106 731.5h5M106 729.5h5M106 726.5h5M106 724.5h5" stroke="#000"/></g><text x="83.7 92.7" y="860.2">1.</text><text x="83.7 92.7" y="835.96">2.</text><text x="83.7 92.7" y="811.72">3.</text><text x="83.7 92.7" y="787.48">4.</text><text x="83.7 92.7" y="763.24">5.</text><text x="83.7 92.7" y="739">6.</text><text transform="translate(64.7 792.5) rotate(-90)" text-anchor="middle">L (R<tspan dy="7">E</tspan><tspan dy="-7">)</tspan></text><svg x="111" y="722" width="489" height="141" viewBox="111 722 489 141" overflow="hidden"><path d="M111.8 723.4 112.3 723.3 112.8 723.2 113.3 723.2 113.8 723.1 114.3 723.0 114.8 723.0 115.3 722.9 115.8 722.9 116.3 722.8 116.8 722.8 117.3 722.8 117.8 722.8 118.3 722.7 118.8 722.7 119.3 722.7 119.8 722.7 120.3 722.7 120.8 722.7 121.3 722.7 121.8 722.7 122.3 722.8 122.8 722.8 123.3 722.8 123.8 722.9 124.3 722.9 124.8 723.0 125.3 723.0 125.8 723.1 126.3 723.1 126.8 723.2 127.3 723.3 127.8 723.4 128.3 723.5 128.8 723.6 129.3 723.7 129.8 723.8 130.3 723.9 130.8 724.0 131.3 724.1 131.8 724.3 132.3 724.4 132.8 724.5 133.3 724.7 133.8 724.8 134.3 725.0 134.8 725.2 135.3 725.3 135.8 725.5 136.3 725.7 136.8 725.9 137.3 726.1 137.8 726.3 138.3 726.5 138.8 726.7 139.3 726.9 139.8 727.2 140.3 727.4 140.8 727.6 141.3 727.9 141.8 728.1 142.3 728.4 142.8 728.7 143.3 728.9 143.8 729.2 144.3 729.5 144.8 729.8 145.3 730.1 145.8 730.4 146.3 730.7 146.8 731.0 147.3 731.3 147.8 731.7 148.3 732.0 148.8 732.4 149.3 732.7 149.8 733.1 150.3 733.4 150.8 733.8 151.3 734.2 151.8 734.6 152.3 735.0 152.8 735.4 153.3 735.8 153.8 736.2 154.3 736.6 154.8 737.0 155.3 737.5 155.8 737.9 156.3 738.3 156.8 738.8 157.3 739.3 157.8 739.7 158.3 740.2 158.8 740.7 159.3 741.2 159.8 741.7 160.3 742.2 160.8 742.7 161.3 743.2 161.8 743.7 162.3 744.3 162.8 744.8 163.3 745.4 163.8 745.9 164.3 746.5 164.8 747.1 165.3 747.6 165.8 748.2 166.3 748.8 166.8 749.4 167.3 750.0 167.8 750.6 168.3 751.3 168.8 751.9 169.3 752.5 169.8 753.2 170.3 753.8 170.8 754.5 171.3 755.2 171.8 755.9 172.3 756.5 172.8 757.2 173.3 757.9 173.8 758.6 174.3 759.4 174.8 760.1 175.3 760.8 175.8 761.6 176.3 762.3 176.8 763.1 177.3 763.8 177.8 764.6 178.3 765.4 178.8 766.2 179.3 767.0 179.8 767.8 180.3 768.6 180.8 769.4 181.3 770.3 181.8 771.1 182.3 772.0 182.8 772.8 183.3 773.7 183.8 774.6 184.3 775.4 184.8 776.3 185.3 777.2 185.8 778.1 186.3 779.1 186.8 780.0 187.3 780.9 187.8 781.9 188.3 782.8 188.8 783.8 189.3 784.8 189.8 785.7 190.3 786.7 190.8 787.7 191.3 788.7 191.8 789.8 192.3 790.8 192.8 791.8 193.3 792.9 193.8 793.9 194.3 795.0 194.8 796.1 195.3 797.2 195.8 798.3 196.3 799.5 196.8 800.6 197.3 801.8 197.8 802.9 198.3 804.1 198.8 805.4 199.3 806.6 199.8 807.8 200.3 809.1 200.8 810.4 201.3 811.7 201.8 813.1 202.3 814.4 202.8 815.8 203.3 817.2 203.8 818.6 204.3 820.1 204.8 821.5 205.3 823.0 205.8 824.6 206.3 826.1 206.8 827.7 207.3 829.3 207.8 830.9 208.3 832.6 208.8 834.2 209.3 835.9 209.8 837.5 210.3 839.2 210.8 840.8 211.3 842.4 211.8 844.0 212.3 845.6 212.8 847.2 213.3 848.6 213.8 850.0 214.3 851.2 214.8 852.2 215.3 853.0 215.8 853.6 216.3 853.9 216.8 854.0 217.3 853.8 217.8 853.4 218.3 852.8 218.8 852.0 219.3 851.1 219.8 850.1 220.3 849.0 220.8 847.8 221.3 846.4 221.8 845.1 222.3 843.6 222.8 842.2 223.3 840.7 223.8 839.1 224.3 837.6 224.8 836.1 225.3 834.6 225.8 833.2 226.3 831.7 226.8 830.3 227.3 828.9 227.8 827.6 228.3 826.2 228.8 824.9 229.3 823.5 229.8 822.2 230.3 820.9 230.8 819.6 231.3 818.4 231.8 817.1 232.3 815.9 232.8 814.6 233.3 813.4 233.8 812.2 234.3 810.9 234.8 809.7 235.3 808.5 235.8 807.4 236.3 806.2 236.8 805.0 237.3 803.8 237.8 802.7 238.3 801.5 238.8 800.4 239.3 799.3 239.8 798.2 240.3 797.1 240.8 796.0 241.3 794.9 241.8 793.8 242.3 792.8 242.8 791.7 243.3 790.7 243.8 789.6 244.3 788.6 244.8 787.6 245.3 786.6 245.8 785.6 246.3 784.6 246.8 783.6 247.3 782.7 247.8 781.7 248.3 780.8 248.8 779.9 249.3 778.9 249.8 778.0 250.3 777.1 250.8 776.2 251.3 775.3 251.8 774.5 252.3 773.6 252.8 772.8 253.3 771.9 253.8 771.1 254.3 770.3 254.8 769.5 255.3 768.6 255.8 767.9 256.3 767.1 256.8 766.3 257.3 765.5 257.8 764.8 258.3 764.0 258.8 763.3 259.3 762.6 259.8 761.9 260.3 761.1 260.8 760.4 261.3 759.8 261.8 759.1 262.3 758.4 262.8 757.7 263.3 757.1 263.8 756.4 264.3 755.8 264.8 755.2 265.3 754.6 265.8 754.0 266.3 753.4 266.8 752.8 267.3 752.2 267.8 751.6 268.3 751.1 268.8 750.5 269.3 750.0 269.8 749.4 270.3 748.9 270.8 748.4 271.3 747.9 271.8 747.4 272.3 746.9 272.8 746.4 273.3 745.9 273.8 745.5 274.3 745.0 274.8 744.5 275.3 744.1 275.8 743.7 276.3 743.2 276.8 742.8 277.3 742.4 277.8 742.0 278.3 741.6 278.8 741.2 279.3 740.9 279.8 740.5 280.3 740.1 280.8 739.8 281.3 739.4 281.8 739.1 282.3 738.8 282.8 738.5 283.3 738.2 283.8 737.9 284.3 737.6 284.8 737.3 285.3 737.0 285.8 736.7 286.3 736.5 286.8 736.2 287.3 736.0 287.8 735.7 288.3 735.5 288.8 735.3 289.3 735.0 289.8 734.8 290.3 734.6 290.8 734.4 291.3 734.2 291.8 734.1 292.3 733.9 292.8 733.7 293.3 733.6 293.8 733.4 294.3 733.3 294.8 733.1 295.3 733.0 295.8 732.9 296.3 732.8 296.8 732.7 297.3 732.6 297.8 732.5 298.3 732.4 298.8 732.3 299.3 732.2 299.8 732.1 300.3 732.1 300.8 732.0 301.3 732.0 301.8 732.0 302.3 731.9 302.8 731.9 303.3 731.9 303.8 731.9 304.3 731.9 304.8 731.9 305.3 731.9 305.8 731.9 306.3 731.9 306.8 731.9 307.3 732.0 307.8 732.0 308.3 732.1 308.8 732.1 309.3 732.2 309.8 732.2 310.3 732.3 310.8 732.4 311.3 732.5 311.8 732.6 312.3 732.7 312.8 732.8 313.3 732.9 313.8 733.0 314.3 733.1 314.8 733.2 315.3 733.4 315.8 733.5 316.3 733.7 316.8 733.8 317.3 734.0 317.8 734.1 318.3 734.3 318.8 734.5 319.3 734.6 319.8 734.8 320.3 735.0 320.8 735.2 321.3 735.4 321.8 735.6 322.3 735.8 322.8 736.1 323.3 736.3 323.8 736.5 324.3 736.8 324.8 737.0 325.3 737.2 325.8 737.5 326.3 737.8 326.8 738.0 327.3 738.3 327.8 738.6 328.3 738.8 328.8 739.1 329.3 739.4 329.8 739.7 330.3 740.0 330.8 740.3 331.3 740.6 331.8 740.9 332.3 741.3 332.8 741.6 333.3 741.9 333.8 742.2 334.3 742.6 334.8 742.9 335.3 743.3 335.8 743.6 336.3 744.0 336.8 744.4 337.3 744.7 337.8 745.1 338.3 745.5 338.8 745.9 339.3 746.3 339.8 746.7 340.3 747.1 340.8 747.5 341.3 747.9 341.8 748.4 342.3 748.8 342.8 749.2 343.3 749.7 343.8 750.1 344.3 750.6 344.8 751.1 345.3 751.5 345.8 752.0 346.3 752.5 346.8 753.0 347.3 753.5 347.8 754.0 348.3 754.5 348.8 755.1 349.3 755.6 349.8 756.2 350.3 756.7 350.8 757.3 351.3 757.8 351.8 758.4 352.3 759.0 352.8 759.6 353.3 760.2 353.8 760.8 354.3 761.4 354.8 762.0 355.3 762.7 355.8 763.3 356.3 764.0 356.8 764.6 357.3 765.3 357.8 766.0 358.3 766.7 358.8 767.4 359.3 768.1 359.8 768.8 360.3 769.5 360.8 770.3 361.3 771.0 361.8 771.8 362.3 772.6 362.8 773.3 363.3 774.1 363.8 774.9 364.3 775.7 364.8 776.5 365.3 777.4 365.8 778.2 366.3 779.1 366.8 779.9 367.3 780.8 367.8 781.7 368.3 782.6 368.8 783.5 369.3 784.4 369.8 785.3 370.3 786.3 370.8 787.2 371.3 788.2 371.8 789.1 372.3 790.1 372.8 791.1 373.3 792.1 373.8 793.1 374.3 794.1 374.8 795.2 375.3 796.2 375.8 797.2 376.3 798.3 376.8 799.4 377.3 800.4 377.8 801.5 378.3 802.6 378.8 803.7 379.3 804.9 379.8 806.0 380.3 807.1 380.8 808.3 381.3 809.4 381.8 810.6 382.3 811.7 382.8 812.9 383.3 814.1 383.8 815.3 384.3 816.5 384.8 817.7 385.3 818.9 385.8 820.2 386.3 821.4 386.8 822.7 387.3 823.9 387.8 825.2 388.3 826.5 388.8 827.7 389.3 829.0 389.8 830.3 390.3 831.6 390.8 832.9 391.3 834.2 391.8 835.6 392.3 836.9 392.8 838.2 393.3 839.6 393.8 840.9 394.3 842.2 394.8 843.6 395.3 844.9 395.8 846.2 396.3 847.5 396.8 848.7 397.3 849.8 397.8 850.8 398.3 851.7 398.8 852.4 399.3 852.9 399.8 853.2 400.3 853.4 400.8 853.3 401.3 853.1 401.8 852.7 402.3 852.1 402.8 851.4 403.3 850.6 403.8 849.6 404.3 848.5 404.8 847.3 405.3 846.1 405.8 844.7 406.3 843.3 406.8 841.8 407.3 840.2 407.8 838.6 408.3 837.0 408.8 835.4 409.3 833.7 409.8 832.1 410.3 830.5 410.8 828.9 411.3 827.3 411.8 825.8 412.3 824.3 412.8 822.9 413.3 821.5 413.8 820.1 414.3 818.7 414.8 817.4 415.3 816.0 415.8 814.7 416.3 813.4 416.8 812.1 417.3 810.8 417.8 809.5 418.3 808.2 418.8 806.9 419.3 805.6 419.8 804.4 420.3 803.1 420.8 801.9 421.3 800.7 421.8 799.4 422.3 798.2 422.8 797.0 423.3 795.8 423.8 794.7 424.3 793.5 424.8 792.3 425.3 791.2 425.8 790.0 426.3 788.9 426.8 787.8 427.3 786.7 427.8 785.6 428.3 784.5 428.8 783.4 429.3 782.3 429.8 781.2 430.3 780.2 430.8 779.1 431.3 778.1 431.8 777.1 432.3 776.1 432.8 775.0 433.3 774.0 433.8 773.1 434.3 772.1 434.8 771.1 435.3 770.1 435.8 769.2 436.3 768.3 436.8 767.3 437.3 766.4 437.8 765.5 438.3 764.6 438.8 763.7 439.3 762.8 439.8 761.9 440.3 761.1 440.8 760.2 441.3 759.4 441.8 758.5 442.3 757.7 442.8 756.9 443.3 756.1 443.8 755.3 444.3 754.5 444.8 753.7 445.3 752.9 445.8 752.2 446.3 751.4 446.8 750.7 447.3 749.9 447.8 749.2 448.3 748.5 448.8 747.8 449.3 747.1 449.8 746.4 450.3 745.8 450.8 745.1 451.3 744.4 451.8 743.8 452.3 743.1 452.8 742.5 453.3 741.9 453.8 741.3 454.3 740.7 454.8 740.1 455.3 739.5 455.8 739.0 456.3 738.4 456.8 737.8 457.3 737.3 457.8 736.8 458.3 736.2 458.8 735.7 459.3 735.2 459.8 734.7 460.3 734.2 460.8 733.8 461.3 733.3 461.8 732.8 462.3 732.4 462.8 732.0 463.3 731.5 463.8 731.1 464.3 730.7 464.8 730.3 465.3 729.9 465.8 729.5 466.3 729.1 466.8 728.8 467.3 728.4 467.8 728.1 468.3 727.7 468.8 727.4 469.3 727.1 469.8 726.7 470.3 726.4 470.8 726.1 471.3 725.9 471.8 725.6 472.3 725.3 472.8 725.0 473.3 724.8 473.8 724.5 474.3 724.3 474.8 724.1 475.3 723.9 475.8 723.7 476.3 723.4 476.8 723.3 477.3 723.1 477.8 722.9 478.3 722.7 478.8 722.6 479.3 722.4 479.8 722.3 480.3 722.1 480.8 722.0 481.3 721.9 481.8 721.8 482.3 721.7 482.8 721.6 483.3 721.5 483.8 721.4 484.3 721.3 484.8 721.3 485.3 721.2 485.8 721.1 486.3 721.1 486.8 721.1 487.3 721.0 487.8 721.0 488.3 721.0 488.8 721.0 489.3 721.0 489.8 721.0 490.3 721.0 490.8 721.1 491.3 721.1 491.8 721.2 492.3 721.2 492.8 721.3 493.3 721.3 493.8 721.4 494.3 721.5 494.8 721.6 495.3 721.7 495.8 721.8 496.3 721.9 496.8 722.0 497.3 722.1 497.8 722.2 498.3 722.4 498.8 722.5 499.3 722.7 499.8 722.9 500.3 723.0 500.8 723.2 501.3 723.4 501.8 723.6 502.3 723.8 502.8 724.0 503.3 724.2 503.8 724.5 504.3 724.7 504.8 724.9 505.3 725.2 505.8 725.4 506.3 725.7 506.8 726.0 507.3 726.3 507.8 726.6 508.3 726.9 508.8 727.2 509.3 727.5 509.8 727.8 510.3 728.1 510.8 728.5 511.3 728.8 511.8 729.2 512.3 729.6 512.8 729.9 513.3 730.3 513.8 730.7 514.3 731.1 514.8 731.5 515.3 731.9 515.8 732.3 516.3 732.8 516.8 733.2 517.3 733.7 517.8 734.1 518.3 734.6 518.8 735.0 519.3 735.5 519.8 736.0 520.3 736.5 520.8 737.0 521.3 737.5 521.8 738.1 522.3 738.6 522.8 739.1 523.3 739.7 523.8 740.2 524.3 740.8 524.8 741.4 525.3 742.0 525.8 742.6 526.3 743.2 526.8 743.8 527.3 744.4 527.8 745.0 528.3 745.7 528.8 746.3 529.3 747.0 529.8 747.6 530.3 748.3 530.8 749.0 531.3 749.7 531.8 750.4 532.3 751.1 532.8 751.8 533.3 752.5 533.8 753.3 534.3 754.0 534.8 754.8 535.3 755.5 535.8 756.3 536.3 757.1 536.8 757.9 537.3 758.7 537.8 759.5 538.3 760.3 538.8 761.1 539.3 761.9 539.8 762.8 540.3 763.6 540.8 764.5 541.3 765.3 541.8 766.2 542.3 767.1 542.8 768.0 543.3 768.9 543.8 769.8 544.3 770.7 544.8 771.6 545.3 772.6 545.8 773.5 546.3 774.5 546.8 775.4 547.3 776.4 547.8 777.3 548.3 778.3 548.8 779.3 549.3 780.3 549.8 781.3 550.3 782.3 550.8 783.3 551.3 784.3 551.8 785.3 552.3 786.4 552.8 787.4 553.3 788.5 553.8 789.5 554.3 790.6 554.8 791.6 555.3 792.7 555.8 793.8 556.3 794.9 556.8 796.0 557.3 797.1 557.8 798.2 558.3 799.3 558.8 800.4 559.3 801.5 559.8 802.7 560.3 803.8 560.8 804.9 561.3 806.1 561.8 807.2 562.3 808.4 562.8 809.5 563.3 810.7 563.8 811.9 564.3 813.1 564.8 814.2 565.3 815.4 565.8 816.6 566.3 817.8 566.8 819.0 567.3 820.2 567.8 821.4 568.3 822.7 568.8 823.9 569.3 825.1 569.8 826.4 570.3 827.6 570.8 828.9 571.3 830.1 571.8 831.4 572.3 832.7 572.8 834.0 573.3 835.2 573.8 836.6 574.3 837.9 574.8 839.2 575.3 840.5 575.8 841.9 576.3 843.2 576.8 844.5 577.3 845.7 577.8 846.8 578.3 847.9 578.8 848.8 579.3 849.6 579.8 850.2 580.3 850.7 580.8 851.0 581.3 851.0 581.8 850.9 582.3 850.7 582.8 850.2 583.3 849.7 583.8 849.1 584.3 848.4 584.8 847.6 585.3 846.9 585.8 846.2 586.3 845.4 586.8 844.7 587.3 843.9 587.8 843.2 588.3 842.4 588.8 841.5 589.3 840.7 589.8 839.8 590.3 838.9 590.8 837.9 591.3 836.8 591.8 835.7 592.3 834.5 592.8 833.3 593.3 831.9 593.8 830.5 594.3 829.0 594.8 827.3 595.3 825.6 595.8 823.9 596.3 822.2 596.8 820.5 597.3 819.0 597.8 817.6 598.3 816.4 598.8 815.5" fill="none" stroke="#000" stroke-width="1.3"/></svg><text x="92 101 110 115 124" y="890.8">00:00</text><text x="93 102 106 115 124" y="907.7">5.722</text><text x="79 84 93 102 106 115 124" y="924.55">-15.910</text><text x="93 102 106 115 124" y="941.4">3.471</text><text x="93 102 106 115 124" y="958.25">6.187</text><text x="213 222 231 236 245" y="890.8">06:00</text><text x="214 223 227 236 245" y="907.7">2.672</text><text x="214 223 227 236 245" y="924.55">4.203</text><text x="214 223 227 236 245" y="941.4">0.202</text><text x="214 223 227 236 245" y="958.25">2.687</text><text x="335 344 353 358 367" y="890.8">12:00</text><text x="336 345 349 358 367" y="907.7">4.648</text><text x="336 345 349 358 367" y="924.55">1.252</text><text x="336 345 349 358 367" y="941.4">6.436</text><text x="336 345 349 358 367" y="958.25">4.650</text><text x="457 466 475 480 489" y="890.8">18:00</text><text x="458 467 471 480 489" y="907.7">5.707</text><text x="444 449 458 467 471 480 489" y="924.55">-17.400</text><text x="458 467 471 480 489" y="941.4">3.836</text><text x="458 467 471 480 489" y="958.25">6.267</text><text x="579 588 597 602 611" y="890.8">00:00</text><text x="580 589 593 602 611" y="907.7">2.560</text><text x="575 580 589 593 602 611" y="924.55">-1.348</text><text x="571 580 589 593 602 611" y="941.4">23.540</text><text x="580 589 593 602 611" y="958.25">2.561</text><text x="72" y="905.8" text-anchor="end">R<tspan dy="3.9" font-size="9.5">E</tspan></text><text x="72" y="922.8" text-anchor="end">MLat</text><text x="72" y="939.7" text-anchor="end">MLT</text><text x="72" y="956.6" text-anchor="end">L</text><text x="293.85 302.85 311.85 320.85 329.85 334.85 343.85 352.85 357.85 366.85 375.85 379.85 384.85 393.85 402.85 411.85" y="978.8">2012-12-15 (350)</text></svg></body></html>
